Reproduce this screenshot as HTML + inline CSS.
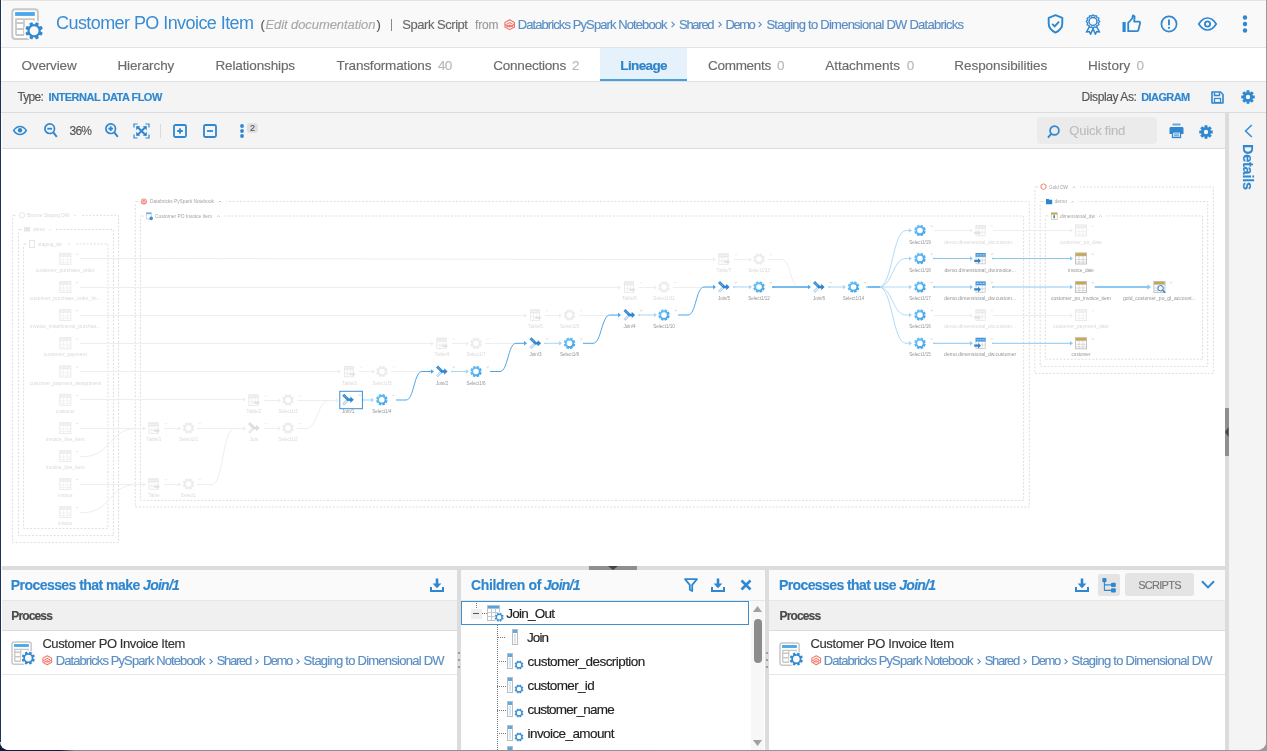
<!DOCTYPE html><html><head><meta charset="utf-8"><title>Lineage</title><style>
*{box-sizing:border-box;margin:0;padding:0}
html,body{width:1267px;height:751px;overflow:hidden;background:linear-gradient(to right,#0f1d3c 0,#0f1d3c 60px,#8c8c8c 75px,#9a9a9a 100%)}
body{position:relative;font-family:"Liberation Sans", Arial, sans-serif}
.t{position:absolute;white-space:pre;line-height:1;font-family:"Liberation Sans", Arial, sans-serif;-webkit-text-stroke:0.15px currentColor}
.ic{position:absolute;overflow:visible}
.bx{position:absolute}
</style></head><body><div class="bx" style="left:0;top:0;width:1266px;height:750px;background:#fff;border-bottom-left-radius:8.5px;border-bottom-right-radius:8.5px;overflow:hidden"><div class="bx" style="left:2px;top:0;width:1264px;height:1px;background:#e4e4e4"></div><div class="bx" style="left:2px;top:1px;width:1264px;height:46px;background:#f9f9f9"></div><div class="bx" style="left:1px;top:47px;width:1265px;height:1px;background:#e3e3e3"></div><div class="bx" style="left:1px;top:1px;width:1px;height:46px;background:#fff"></div><svg class="ic" style="left:11px;top:8px;width:32.0px;height:32.0px;" viewBox="0 0 32 32"><rect x="1.3" y="1.3" width="25.6" height="29.6" rx="3" fill="#fff" stroke="#c8c8c8" stroke-width="2"/><rect x="4.1" y="4.1" width="19.7" height="3.8" fill="#4aa8e8"/><path d="M5 27 V11.1 H22.9 V16 M5 15 H13 M5 21 H13 M13 11.1 V27 M5 27 H13" stroke="#c8c8c8" stroke-width="1.8" fill="none"/><circle cx="23.1" cy="22.8" r="10.3" fill="#fafafa"/><path d="M29.67,23.45 L31.77,24.81 L30.65,27.51 L28.20,26.99 L27.29,27.90 L27.81,30.35 L25.11,31.47 L23.75,29.37 L22.45,29.37 L21.09,31.47 L18.39,30.35 L18.91,27.90 L18.00,26.99 L15.55,27.51 L14.43,24.81 L16.53,23.45 L16.53,22.15 L14.43,20.79 L15.55,18.09 L18.00,18.61 L18.91,17.70 L18.39,15.25 L21.09,14.13 L22.45,16.23 L23.75,16.23 L25.11,14.13 L27.81,15.25 L27.29,17.70 L28.20,18.61 L30.65,18.09 L31.77,20.79 L29.67,22.15Z M27.60,22.80 A4.5,4.5 0 1 0 18.60,22.80 A4.5,4.5 0 1 0 27.60,22.80Z" fill="#3189d0" fill-rule="evenodd"/></svg><span class="t " style="left:56.00px;top:13.78px;font-size:18px;color:#3a8dd3;letter-spacing:-0.566px;-webkit-text-stroke:0;">Customer PO Invoice Item</span><span class="t " style="left:260.40px;top:18.02px;font-size:13px;color:#555;">(</span><span class="t " style="left:265.40px;top:18.02px;font-size:13px;color:#a9a9a9;font-style:italic;letter-spacing:-0.072px;">Edit documentation</span><span class="t " style="left:376.50px;top:18.02px;font-size:13px;color:#555;">)</span><div class="bx" style="left:391px;top:19px;width:1px;height:12px;background:#888"></div><span class="t " style="left:402.30px;top:18.02px;font-size:13px;color:#6a6a6a;letter-spacing:-0.468px;">Spark Script</span><span class="t " style="left:475.00px;top:18.86px;font-size:12px;color:#9a9a9a;letter-spacing:-0.150px;">from</span><svg class="ic" style="left:504px;top:18.6px;width:11.4px;height:11.4px;" viewBox="0 0 12 12"><g fill="none" stroke="#f4695b" stroke-width="1.15" stroke-linejoin="round" opacity="0.95"><path d="M6 0.8 L11 3.6 V8.4 L6 11.2 L1 8.4 V3.6 Z"/><path d="M1 5.6 L6 8.4 L11 5.6"/><path d="M3 5.4 L6 3.8 L9 5.4"/><path d="M2.6 8.4 L6 6.4 L9.4 8.4"/></g></svg><span class="t " style="left:517.70px;top:18.02px;font-size:13px;color:#5a8ec4;letter-spacing:-0.905px;">Databricks PySpark Notebook</span><svg class="ic" style="left:670.5px;top:21.2px;width:4px;height:7px;" viewBox="0 0 4 7"><path d="M0.6 0.8 L3.3 3.5 L0.6 6.2" fill="none" stroke="#5a8ec4" stroke-width="1.1"/></svg><span class="t " style="left:679.00px;top:18.02px;font-size:13px;color:#5a8ec4;letter-spacing:-1.270px;">Shared</span><svg class="ic" style="left:717.5px;top:21.2px;width:4px;height:7px;" viewBox="0 0 4 7"><path d="M0.6 0.8 L3.3 3.5 L0.6 6.2" fill="none" stroke="#5a8ec4" stroke-width="1.1"/></svg><span class="t " style="left:725.60px;top:18.02px;font-size:13px;color:#5a8ec4;letter-spacing:-1.522px;">Demo</span><svg class="ic" style="left:758px;top:21.2px;width:4px;height:7px;" viewBox="0 0 4 7"><path d="M0.6 0.8 L3.3 3.5 L0.6 6.2" fill="none" stroke="#5a8ec4" stroke-width="1.1"/></svg><span class="t " style="left:766.40px;top:18.02px;font-size:13px;color:#5a8ec4;letter-spacing:-0.750px;">Staging to Dimensional DW Databricks</span><svg class="ic" style="left:1047px;top:14px;width:17px;height:20px;" viewBox="0 0 17 20"><path d="M8.5 1.2 L15.3 3.8 V9.5 C15.3 14 12.3 16.8 8.5 18.6 C4.7 16.8 1.7 14 1.7 9.5 V3.8 Z" fill="none" stroke="#2f87cf" stroke-width="1.9" stroke-linejoin="round"/><path d="M5.2 9.8 L7.7 12.3 L12 7.6" fill="none" stroke="#2f87cf" stroke-width="1.9"/></svg><svg class="ic" style="left:1085px;top:14px;width:16px;height:21px;" viewBox="0 0 16 21"><path d="M14.65,7.50 L14.48,7.92 L14.05,8.30 L13.60,8.61 L13.36,8.94 L13.41,9.34 L13.64,9.83 L13.82,10.37 L13.76,10.82 L13.40,11.11 L12.84,11.21 L12.29,11.27 L11.92,11.42 L11.77,11.79 L11.71,12.34 L11.61,12.90 L11.33,13.26 L10.87,13.32 L10.33,13.14 L9.84,12.91 L9.44,12.86 L9.11,13.10 L8.80,13.55 L8.42,13.98 L8.00,14.15 L7.58,13.98 L7.20,13.55 L6.89,13.10 L6.56,12.86 L6.16,12.91 L5.67,13.14 L5.13,13.32 L4.68,13.26 L4.39,12.90 L4.29,12.34 L4.23,11.79 L4.08,11.42 L3.71,11.27 L3.16,11.21 L2.60,11.11 L2.24,10.82 L2.18,10.37 L2.36,9.83 L2.59,9.34 L2.64,8.94 L2.40,8.61 L1.95,8.30 L1.52,7.92 L1.35,7.50 L1.52,7.08 L1.95,6.70 L2.40,6.39 L2.64,6.06 L2.59,5.66 L2.36,5.17 L2.18,4.63 L2.24,4.18 L2.60,3.89 L3.16,3.79 L3.71,3.73 L4.08,3.58 L4.23,3.21 L4.29,2.66 L4.39,2.10 L4.67,1.74 L5.13,1.68 L5.67,1.86 L6.16,2.09 L6.56,2.14 L6.89,1.90 L7.20,1.45 L7.58,1.02 L8.00,0.85 L8.42,1.02 L8.80,1.45 L9.11,1.90 L9.44,2.14 L9.84,2.09 L10.33,1.86 L10.87,1.68 L11.33,1.74 L11.61,2.10 L11.71,2.66 L11.77,3.21 L11.92,3.58 L12.29,3.73 L12.84,3.79 L13.40,3.89 L13.76,4.17 L13.82,4.63 L13.64,5.17 L13.41,5.66 L13.36,6.06 L13.60,6.39 L14.05,6.70 L14.48,7.08 L14.65,7.50Z" fill="none" stroke="#2f87cf" stroke-width="1.3"/><circle cx="8" cy="7.5" r="4" fill="none" stroke="#2f87cf" stroke-width="1.5"/><path d="M4.6 12.4 L1.4 18 L4.3 17.4 L5.6 20.2 L8 14.6 L10.4 20.2 L11.7 17.4 L14.6 18 L11.4 12.4" fill="none" stroke="#2f87cf" stroke-width="1.5" stroke-linejoin="round"/></svg><svg class="ic" style="left:1122px;top:14px;width:19px;height:19px;" viewBox="0 0 19 19"><rect x="0.5" y="8" width="3.2" height="10" fill="#2f87cf"/><path d="M6.2 17.2 V8.8 L10.2 4.5 L11 1.3 L12.6 2.4 L12.2 7.6 H17 C17.8 7.6 18.3 8.3 18.1 9.1 L16.4 16 C16.2 16.8 15.6 17.2 14.8 17.2 Z" fill="none" stroke="#2f87cf" stroke-width="1.8" stroke-linejoin="round"/></svg><svg class="ic" style="left:1160px;top:15px;width:18px;height:18px;" viewBox="0 0 18 18"><circle cx="9" cy="9" r="7.6" fill="none" stroke="#2f87cf" stroke-width="1.7"/><path d="M9 4.6 V10.2" stroke="#2f87cf" stroke-width="1.9"/><circle cx="9" cy="12.8" r="1.1" fill="#2f87cf"/></svg><svg class="ic" style="left:1198px;top:17px;width:19px;height:14px;" viewBox="0 0 19 14"><path d="M0.8 7 C3.5 2.6 6.4 1 9.5 1 C12.6 1 15.5 2.6 18.2 7 C15.5 11.4 12.6 13 9.5 13 C6.4 13 3.5 11.4 0.8 7 Z" fill="none" stroke="#2f87cf" stroke-width="1.7"/><circle cx="9.5" cy="7" r="2.6" fill="none" stroke="#2f87cf" stroke-width="1.8"/></svg><svg class="ic" style="left:1242px;top:15px;width:6px;height:18px;" viewBox="0 0 6 18"><circle cx="3" cy="2.5" r="2.2" fill="#2f87cf"/><circle cx="3" cy="9" r="2.2" fill="#2f87cf"/><circle cx="3" cy="15.5" r="2.2" fill="#2f87cf"/></svg><div class="bx" style="left:1px;top:48px;width:1265px;height:33px;background:#fff"></div><div class="bx" style="left:600px;top:48px;width:87px;height:33px;background:#e5f1fb"></div><div class="bx" style="left:600px;top:79px;width:87px;height:2px;background:#46a0de"></div><div class="bx" style="left:1px;top:81px;width:1265px;height:1px;background:#e0e0e0"></div><span class="t " style="left:21.50px;top:58.59px;font-size:13.5px;color:#6b6b6b;letter-spacing:-0.158px;">Overview</span><span class="t " style="left:117.40px;top:58.59px;font-size:13.5px;color:#6b6b6b;letter-spacing:-0.107px;">Hierarchy</span><span class="t " style="left:215.40px;top:58.59px;font-size:13.5px;color:#6b6b6b;letter-spacing:-0.111px;">Relationships</span><span class="t " style="left:336.60px;top:58.59px;font-size:13.5px;color:#6b6b6b;letter-spacing:-0.155px;">Transformations</span><span class="t " style="left:438.00px;top:58.59px;font-size:13.5px;color:#b8b8b8;letter-spacing:-0.766px;">40</span><span class="t " style="left:493.20px;top:58.59px;font-size:13.5px;color:#6b6b6b;letter-spacing:-0.206px;">Connections</span><span class="t " style="left:572.00px;top:58.59px;font-size:13.5px;color:#b8b8b8;">2</span><span class="t " style="left:620.30px;top:58.59px;font-size:13.5px;color:#2f84c8;font-weight:bold;letter-spacing:-0.617px;">Lineage</span><span class="t " style="left:708.00px;top:58.59px;font-size:13.5px;color:#6b6b6b;letter-spacing:-0.283px;">Comments</span><span class="t " style="left:777.00px;top:58.59px;font-size:13.5px;color:#b8b8b8;">0</span><span class="t " style="left:825.20px;top:58.59px;font-size:13.5px;color:#6b6b6b;letter-spacing:-0.022px;">Attachments</span><span class="t " style="left:906.80px;top:58.59px;font-size:13.5px;color:#b8b8b8;">0</span><span class="t " style="left:954.30px;top:58.59px;font-size:13.5px;color:#6b6b6b;letter-spacing:-0.056px;">Responsibilities</span><span class="t " style="left:1088.00px;top:58.59px;font-size:13.5px;color:#6b6b6b;letter-spacing:0.041px;">History</span><span class="t " style="left:1136.60px;top:58.59px;font-size:13.5px;color:#b8b8b8;">0</span><div class="bx" style="left:1px;top:82px;width:1265px;height:30px;background:#f4f4f4"></div><div class="bx" style="left:1px;top:112px;width:1265px;height:1px;background:#dcdcdc"></div><span class="t " style="left:17.40px;top:90.86px;font-size:12px;color:#555;letter-spacing:-0.752px;">Type:</span><span class="t " style="left:48.60px;top:91.71px;font-size:11px;color:#2f87cf;font-weight:bold;letter-spacing:-0.512px;">INTERNAL DATA FLOW</span><span class="t " style="left:1081.50px;top:90.86px;font-size:12px;color:#555;letter-spacing:-0.396px;">Display As:</span><span class="t " style="left:1141.20px;top:91.71px;font-size:11px;color:#2f87cf;font-weight:bold;letter-spacing:-0.580px;">DIAGRAM</span><svg class="ic" style="left:1211px;top:91px;width:13px;height:13px;" viewBox="0 0 13 13"><path d="M1 1 H9.5 L12 3.5 V12 H1 Z" fill="none" stroke="#2f87cf" stroke-width="1.6" stroke-linejoin="round"/><path d="M3.5 1.5 V4.5 H8.5 V1.5" fill="none" stroke="#2f87cf" stroke-width="1.4"/><rect x="3.5" y="7.5" width="6" height="4" fill="none" stroke="#2f87cf" stroke-width="1.2"/></svg><svg class="ic" style="left:1240.5px;top:90px;width:14px;height:14px;" viewBox="0 0 14 14"><path d="M11.78,5.55 L13.74,5.52 L13.74,8.48 L11.78,8.45 L11.41,9.36 L12.81,10.72 L10.72,12.81 L9.36,11.41 L8.45,11.78 L8.48,13.74 L5.52,13.74 L5.55,11.78 L4.64,11.41 L3.28,12.81 L1.19,10.72 L2.59,9.36 L2.22,8.45 L0.26,8.48 L0.26,5.52 L2.22,5.55 L2.59,4.64 L1.19,3.28 L3.28,1.19 L4.64,2.59 L5.55,2.22 L5.52,0.26 L8.48,0.26 L8.45,2.22 L9.36,2.59 L10.72,1.19 L12.81,3.28 L11.41,4.64Z M9.20,7.00 A2.2,2.2 0 1 0 4.80,7.00 A2.2,2.2 0 1 0 9.20,7.00Z" fill="#2f87cf" fill-rule="evenodd"/></svg><div class="bx" style="left:2px;top:113px;width:1223px;height:35px;background:#f4f4f4"></div><div class="bx" style="left:2px;top:148px;width:1223px;height:1px;background:#dcdcdc"></div><svg class="ic" style="left:13px;top:126px;width:14px;height:9px;" viewBox="0 0 14 9"><path d="M0.6 4.5 C2.6 1.6 4.6 0.5 7 0.5 C9.4 0.5 11.4 1.6 13.4 4.5 C11.4 7.4 9.4 8.5 7 8.5 C4.6 8.5 2.6 7.4 0.6 4.5Z" fill="none" stroke="#2f87cf" stroke-width="1.4"/><circle cx="7" cy="4.3" r="2.2" fill="#2f87cf"/></svg><svg class="ic" style="left:44px;top:123px;width:14px;height:15px;" viewBox="0 0 14 15"><circle cx="5.7" cy="5.7" r="4.8" fill="none" stroke="#2f87cf" stroke-width="1.7"/><path d="M3.3 5.7 H8.1" stroke="#2f87cf" stroke-width="1.8"/><path d="M9.3 9.3 L12.8 13.8" stroke="#2f87cf" stroke-width="1.9"/></svg><span class="t " style="left:69.60px;top:124.86px;font-size:12px;color:#555;letter-spacing:-0.810px;">36%</span><svg class="ic" style="left:105px;top:123px;width:14px;height:15px;" viewBox="0 0 14 15"><circle cx="5.7" cy="5.7" r="4.8" fill="none" stroke="#2f87cf" stroke-width="1.7"/><path d="M3.3 5.7 H8.1 M5.7 3.3 V8.1" stroke="#2f87cf" stroke-width="1.8"/><path d="M9.3 9.3 L12.8 13.8" stroke="#2f87cf" stroke-width="1.9"/></svg><svg class="ic" style="left:132.5px;top:123px;width:17px;height:16px;" viewBox="0 0 17 16"><path d="M1 4.5 V1 H4.5 M12.5 1 H16 V4.5 M16 11.5 V15 H12.5 M4.5 15 H1 V11.5" fill="none" stroke="#2f87cf" stroke-width="1.2"/><path d="M4 3.5 L13 12.5 M13 3.5 L4 12.5" stroke="#2f87cf" stroke-width="2"/><path d="M3.2 3.2 h4 l-4 4z M13.8 3.2 h-4 l4 4z M3.2 12.8 h4 l-4 -4z M13.8 12.8 h-4 l4 -4z" fill="#2f87cf"/></svg><div class="bx" style="left:160px;top:124px;width:1px;height:14px;background:#dadada"></div><svg class="ic" style="left:173px;top:124px;width:14px;height:14px;" viewBox="0 0 14 14"><rect x="1" y="1" width="12" height="12" rx="1.5" fill="none" stroke="#2f87cf" stroke-width="1.8"/><path d="M4.2 7 H9.8 M7 4.2 V9.8" stroke="#2f87cf" stroke-width="1.8"/></svg><svg class="ic" style="left:203px;top:124px;width:14px;height:14px;" viewBox="0 0 14 14"><rect x="1" y="1" width="12" height="12" rx="1.5" fill="none" stroke="#2f87cf" stroke-width="1.8"/><path d="M4 7 H10" stroke="#2f87cf" stroke-width="1.8"/></svg><svg class="ic" style="left:240px;top:124px;width:4px;height:14px;" viewBox="0 0 4 14"><circle cx="2" cy="2" r="1.9" fill="#2f87cf"/><circle cx="2" cy="7" r="1.9" fill="#2f87cf"/><circle cx="2" cy="12" r="1.9" fill="#2f87cf"/></svg><div class="bx" style="left:247px;top:123px;width:11px;height:10px;background:#e0e0e0;border-radius:3px"></div><span class="t " style="left:250.00px;top:124.40px;font-size:9px;color:#555;">2</span><div class="bx" style="left:1037px;top:117px;width:120px;height:27px;background:#ebebeb;border-radius:4px"></div><svg class="ic" style="left:1046.5px;top:124.5px;width:13px;height:14px;" viewBox="0 0 13 14"><circle cx="7.5" cy="5.5" r="4.4" fill="none" stroke="#2f87cf" stroke-width="1.7"/><path d="M4.4 8.6 L1 12.6" stroke="#2f87cf" stroke-width="1.9"/></svg><span class="t " style="left:1069.30px;top:124.02px;font-size:13px;color:#bdbdbd;letter-spacing:-0.211px;">Quick find</span><svg class="ic" style="left:1168.5px;top:122.5px;width:15px;height:15px;" viewBox="0 0 15 15"><rect x="3.5" y="0.5" width="8" height="2" fill="#6aa6d8"/><path d="M2 4 H13 C14 4 14.5 4.6 14.5 5.5 V11 H12 V9 H3 V11 H0.5 V5.5 C0.5 4.6 1 4 2 4Z" fill="#2f87cf"/><rect x="3.5" y="9" width="8" height="5.5" fill="none" stroke="#2f87cf" stroke-width="1.3"/><path d="M5 11 H10 M5 12.8 H10" stroke="#2f87cf" stroke-width="0.9"/></svg><svg class="ic" style="left:1199.3px;top:124.5px;width:14px;height:14px;" viewBox="0 0 14 14"><path d="M11.78,5.55 L13.74,5.52 L13.74,8.48 L11.78,8.45 L11.41,9.36 L12.81,10.72 L10.72,12.81 L9.36,11.41 L8.45,11.78 L8.48,13.74 L5.52,13.74 L5.55,11.78 L4.64,11.41 L3.28,12.81 L1.19,10.72 L2.59,9.36 L2.22,8.45 L0.26,8.48 L0.26,5.52 L2.22,5.55 L2.59,4.64 L1.19,3.28 L3.28,1.19 L4.64,2.59 L5.55,2.22 L5.52,0.26 L8.48,0.26 L8.45,2.22 L9.36,2.59 L10.72,1.19 L12.81,3.28 L11.41,4.64Z M9.20,7.00 A2.2,2.2 0 1 0 4.80,7.00 A2.2,2.2 0 1 0 9.20,7.00Z" fill="#2f87cf" fill-rule="evenodd"/></svg><div class="bx" style="left:1225px;top:113px;width:4px;height:637px;background:#dcdcdc"></div><div class="bx" style="left:1229px;top:113px;width:37px;height:637px;background:#f4f4f4"></div><svg class="ic" style="left:1244px;top:124px;width:9px;height:14px;" viewBox="0 0 9 14"><path d="M7.8 1 L1.6 7 L7.8 13" fill="none" stroke="#3a8fd3" stroke-width="1.6"/></svg><div class="bx" style="left:1241.7px;top:144.2px;width:0;height:0"><span class="t" style="left:0;top:0;transform-origin:0 0;transform:translate(12.5px,0) rotate(90deg);font-size:14.5px;font-weight:bold;color:#2f87cf;letter-spacing:-0.25px">Details</span></div><div class="bx" style="left:1225px;top:408px;width:4px;height:48px;background:#8f8f8f"></div><svg class="ic" style="left:1225px;top:427px;width:4px;height:10px;" viewBox="0 0 4 10"><path d="M3.5 0 L0 5 L3.5 10Z" fill="#444"/></svg><div class="bx" style="left:2px;top:149px;width:1223px;height:417px;background:#fff"></div><div class="bx" style="left:2px;top:149px;width:1223px;height:417px;overflow:hidden"><svg style="position:absolute;left:0;top:0" width="1223" height="417" viewBox="2 149 1223 417" font-family='"Liberation Sans", Arial, sans-serif'><defs><linearGradient id="gg" x1="0" y1="0" x2="1" y2="1"><stop offset="0" stop-color="#74c8f7"/><stop offset="1" stop-color="#3a9de6"/></linearGradient></defs><path d="M12.6,218.3 V542.6 H118.5 V215.3 H81" fill="none" stroke="#dedede" stroke-width="1" stroke-dasharray="2 1.6"/><path d="M12.6,215.3 H15.6" stroke="#dedede" stroke-width="1"/><circle cx="22" cy="215.3" r="2.6" fill="none" stroke="#e2e2e2" stroke-width="0.9"/><text x="27.3" y="217.10000000000002" font-size="5" fill="#d9d9d9" textLength="42" lengthAdjust="spacingAndGlyphs">Bronze Staging DW</text><path d="M73.7,216.20000000000002 L75,214.9 L76.3,216.20000000000002" fill="none" stroke="#d9d9d9" stroke-width="0.6"/><path d="M18.4,232.5 V535.6 H113.4 V229.5 H56" fill="none" stroke="#dedede" stroke-width="1" stroke-dasharray="2 1.6"/><path d="M18.4,229.5 H21.4" stroke="#dedede" stroke-width="1"/><rect x="24" y="227" width="6" height="4.6" fill="#e6e6e6"/><text x="33" y="231.3" font-size="5" fill="#d9d9d9" textLength="12" lengthAdjust="spacingAndGlyphs">demo</text><path d="M48.7,230.4 L50,229.1 L51.3,230.4" fill="none" stroke="#d9d9d9" stroke-width="0.6"/><path d="M23.6,246.9 V528.4 H107.9 V243.9 H75" fill="none" stroke="#dedede" stroke-width="1" stroke-dasharray="2 1.6"/><path d="M23.6,243.9 H26.6" stroke="#dedede" stroke-width="1"/><rect x="29.5" y="240.5" width="5" height="7" fill="none" stroke="#e2e2e2" stroke-width="0.9"/><text x="38" y="245.70000000000002" font-size="5" fill="#d9d9d9" textLength="24" lengthAdjust="spacingAndGlyphs">staging_dw</text><path d="M67.7,244.8 L69,243.5 L70.3,244.8" fill="none" stroke="#d9d9d9" stroke-width="0.6"/><path d="M135.3,204.4 V507 H1029.3 V201.4 H226.6" fill="none" stroke="#dedede" stroke-width="1" stroke-dasharray="2 1.6"/><path d="M135.3,201.4 H138.3" stroke="#dedede" stroke-width="1"/><circle cx="143.9" cy="201.4" r="3" fill="#f07a6c"/><path d="M141.6 200.6 L143.9 199.4 L146.2 200.6 L143.9 201.8Z M141.6 202 L143.9 203.2 L146.2 202" fill="none" stroke="#fff" stroke-width="0.6"/><text x="150" y="203.20000000000002" font-size="5" fill="#a3a3a3" textLength="64" lengthAdjust="spacingAndGlyphs">Databricks PySpark Notebook</text><path d="M218.7,202.3 L220,201.0 L221.3,202.3" fill="none" stroke="#a3a3a3" stroke-width="0.6"/><path d="M140.4,219 V500.4 H1023.6 V216 H224" fill="none" stroke="#dedede" stroke-width="1" stroke-dasharray="2 1.6"/><path d="M140.4,216 H143.4" stroke="#dedede" stroke-width="1"/><rect x="146.3" y="212.6" width="5" height="6.4" fill="#fff" stroke="#b9c7d6" stroke-width="0.7"/><rect x="146.5" y="212.8" width="4.6" height="1.4" fill="#6aaee6"/><circle cx="151.2" cy="218.4" r="1.8" fill="#3b8fd6"/><text x="155" y="217.8" font-size="5" fill="#a3a3a3" textLength="57" lengthAdjust="spacingAndGlyphs">Customer PO Invoice Item</text><path d="M217.2,216.9 L218.5,215.6 L219.8,216.9" fill="none" stroke="#a3a3a3" stroke-width="0.6"/><path d="M1034.9,190 V373.4 H1213.4 V187 H1080" fill="none" stroke="#dedede" stroke-width="1" stroke-dasharray="2 1.6"/><path d="M1034.9,187 H1037.9" stroke="#dedede" stroke-width="1"/><path d="M1041 185.2 L1043.5 183.8 L1046 185.2 V188 L1043.5 189.6 L1041 188Z" fill="none" stroke="#ef6f60" stroke-width="0.9"/><text x="1049" y="188.8" font-size="5" fill="#a3a3a3" textLength="19" lengthAdjust="spacingAndGlyphs">Gold DW</text><path d="M1072.7,187.9 L1074,186.6 L1075.3,187.9" fill="none" stroke="#a3a3a3" stroke-width="0.6"/><path d="M1040.2,204.6 V366.4 H1207.7 V201.6 H1078" fill="none" stroke="#dedede" stroke-width="1" stroke-dasharray="2 1.6"/><path d="M1040.2,201.6 H1043.2" stroke="#dedede" stroke-width="1"/><path d="M1046 199 H1048.6 L1049.4 199.8 H1052.2 V204.2 H1046Z" fill="#2f86d0"/><text x="1054.5" y="203.4" font-size="5" fill="#a3a3a3" textLength="12.5" lengthAdjust="spacingAndGlyphs">demo</text><path d="M1071.2,202.5 L1072.5,201.2 L1073.8,202.5" fill="none" stroke="#a3a3a3" stroke-width="0.6"/><path d="M1045.4,218.9 V359.2 H1202.5 V215.9 H1106" fill="none" stroke="#dedede" stroke-width="1" stroke-dasharray="2 1.6"/><path d="M1045.4,215.9 H1048.4" stroke="#dedede" stroke-width="1"/><rect x="1051.2" y="212.8" width="6" height="6.6" fill="#fff" stroke="#c6b27a" stroke-width="0.6"/><rect x="1051.2" y="212.8" width="6" height="1.8" fill="#c9a74c"/><rect x="1053.4" y="215.2" width="1.6" height="3" fill="#2f86d0"/><text x="1060" y="217.70000000000002" font-size="5" fill="#a3a3a3" textLength="35" lengthAdjust="spacingAndGlyphs">dimensional_dw</text><path d="M1099.2,216.8 L1100.5,215.5 L1101.8,216.8" fill="none" stroke="#a3a3a3" stroke-width="0.6"/><rect x="59.8" y="253.3" width="11" height="11" fill="#fff" stroke="#ebebeb" stroke-width="1"/><rect x="59.8" y="253.3" width="11" height="3" fill="#f0f0f0" stroke="#ebebeb" stroke-width="0.6"/><path d="M59.8,259.8 H70.8 M59.8,262.3 H70.8 M63.3,256.3 V264.3 M67.3,256.3 V264.3" stroke="#ebebeb" stroke-width="0.6"/><path d="M60.8,254.8 H69.8" stroke="#f4f4f4" stroke-width="0.6" stroke-dasharray="2 0.8"/><path d="M75.8,253.8 L77.0,255.0 L78.2,253.8" fill="none" stroke="#cfcfcf" stroke-width="0.5"/><text transform="translate(65.3,271.9) scale(1.1,1)" font-size="4.6" fill="#d9d9d9" text-anchor="middle">customer_purchase_order</text><rect x="59.8" y="281.5" width="11" height="11" fill="#fff" stroke="#ebebeb" stroke-width="1"/><rect x="59.8" y="281.5" width="11" height="3" fill="#f0f0f0" stroke="#ebebeb" stroke-width="0.6"/><path d="M59.8,288 H70.8 M59.8,290.5 H70.8 M63.3,284.5 V292.5 M67.3,284.5 V292.5" stroke="#ebebeb" stroke-width="0.6"/><path d="M60.8,283 H69.8" stroke="#f4f4f4" stroke-width="0.6" stroke-dasharray="2 0.8"/><path d="M75.8,282 L77.0,283.2 L78.2,282" fill="none" stroke="#cfcfcf" stroke-width="0.5"/><text transform="translate(65.3,300.1) scale(1.1,1)" font-size="4.6" fill="#d9d9d9" text-anchor="middle">customer_purchase_order_lin...</text><rect x="59.8" y="309.5" width="11" height="11" fill="#fff" stroke="#ebebeb" stroke-width="1"/><rect x="59.8" y="309.5" width="11" height="3" fill="#f0f0f0" stroke="#ebebeb" stroke-width="0.6"/><path d="M59.8,316 H70.8 M59.8,318.5 H70.8 M63.3,312.5 V320.5 M67.3,312.5 V320.5" stroke="#ebebeb" stroke-width="0.6"/><path d="M60.8,311 H69.8" stroke="#f4f4f4" stroke-width="0.6" stroke-dasharray="2 0.8"/><path d="M75.8,310 L77.0,311.2 L78.2,310" fill="none" stroke="#cfcfcf" stroke-width="0.5"/><text transform="translate(65.3,328.1) scale(1.1,1)" font-size="4.6" fill="#d9d9d9" text-anchor="middle">invoice_installments_purchas...</text><rect x="59.8" y="337.8" width="11" height="11" fill="#fff" stroke="#ebebeb" stroke-width="1"/><rect x="59.8" y="337.8" width="11" height="3" fill="#f0f0f0" stroke="#ebebeb" stroke-width="0.6"/><path d="M59.8,344.3 H70.8 M59.8,346.8 H70.8 M63.3,340.8 V348.8 M67.3,340.8 V348.8" stroke="#ebebeb" stroke-width="0.6"/><path d="M60.8,339.3 H69.8" stroke="#f4f4f4" stroke-width="0.6" stroke-dasharray="2 0.8"/><path d="M75.8,338.3 L77.0,339.5 L78.2,338.3" fill="none" stroke="#cfcfcf" stroke-width="0.5"/><text transform="translate(65.3,356.4) scale(1.1,1)" font-size="4.6" fill="#d9d9d9" text-anchor="middle">customer_payment</text><rect x="59.8" y="366.0" width="11" height="11" fill="#fff" stroke="#ebebeb" stroke-width="1"/><rect x="59.8" y="366.0" width="11" height="3" fill="#f0f0f0" stroke="#ebebeb" stroke-width="0.6"/><path d="M59.8,372.5 H70.8 M59.8,375.0 H70.8 M63.3,369.0 V377.0 M67.3,369.0 V377.0" stroke="#ebebeb" stroke-width="0.6"/><path d="M60.8,367.5 H69.8" stroke="#f4f4f4" stroke-width="0.6" stroke-dasharray="2 0.8"/><path d="M75.8,366.5 L77.0,367.7 L78.2,366.5" fill="none" stroke="#cfcfcf" stroke-width="0.5"/><text transform="translate(65.3,384.6) scale(1.1,1)" font-size="4.6" fill="#d9d9d9" text-anchor="middle">customer_payment_assignment</text><rect x="59.8" y="394.3" width="11" height="11" fill="#fff" stroke="#ebebeb" stroke-width="1"/><rect x="59.8" y="394.3" width="11" height="3" fill="#f0f0f0" stroke="#ebebeb" stroke-width="0.6"/><path d="M59.8,400.8 H70.8 M59.8,403.3 H70.8 M63.3,397.3 V405.3 M67.3,397.3 V405.3" stroke="#ebebeb" stroke-width="0.6"/><path d="M60.8,395.8 H69.8" stroke="#f4f4f4" stroke-width="0.6" stroke-dasharray="2 0.8"/><path d="M75.8,394.8 L77.0,396.0 L78.2,394.8" fill="none" stroke="#cfcfcf" stroke-width="0.5"/><text transform="translate(65.3,412.9) scale(1.0,1)" font-size="4.6" fill="#d9d9d9" text-anchor="middle">customer</text><rect x="59.8" y="422.5" width="11" height="11" fill="#fff" stroke="#ebebeb" stroke-width="1"/><rect x="59.8" y="422.5" width="11" height="3" fill="#f0f0f0" stroke="#ebebeb" stroke-width="0.6"/><path d="M59.8,429 H70.8 M59.8,431.5 H70.8 M63.3,425.5 V433.5 M67.3,425.5 V433.5" stroke="#ebebeb" stroke-width="0.6"/><path d="M60.8,424 H69.8" stroke="#f4f4f4" stroke-width="0.6" stroke-dasharray="2 0.8"/><path d="M75.8,423 L77.0,424.2 L78.2,423" fill="none" stroke="#cfcfcf" stroke-width="0.5"/><text transform="translate(65.3,441.1) scale(1.1,1)" font-size="4.6" fill="#d9d9d9" text-anchor="middle">invoice_line_item</text><rect x="59.8" y="450.5" width="11" height="11" fill="#fff" stroke="#ebebeb" stroke-width="1"/><rect x="59.8" y="450.5" width="11" height="3" fill="#f0f0f0" stroke="#ebebeb" stroke-width="0.6"/><path d="M59.8,457 H70.8 M59.8,459.5 H70.8 M63.3,453.5 V461.5 M67.3,453.5 V461.5" stroke="#ebebeb" stroke-width="0.6"/><path d="M60.8,452 H69.8" stroke="#f4f4f4" stroke-width="0.6" stroke-dasharray="2 0.8"/><path d="M75.8,451 L77.0,452.2 L78.2,451" fill="none" stroke="#cfcfcf" stroke-width="0.5"/><text transform="translate(65.3,469.1) scale(1.1,1)" font-size="4.6" fill="#d9d9d9" text-anchor="middle">invoice_line_item</text><rect x="59.8" y="478.5" width="11" height="11" fill="#fff" stroke="#ebebeb" stroke-width="1"/><rect x="59.8" y="478.5" width="11" height="3" fill="#f0f0f0" stroke="#ebebeb" stroke-width="0.6"/><path d="M59.8,485 H70.8 M59.8,487.5 H70.8 M63.3,481.5 V489.5 M67.3,481.5 V489.5" stroke="#ebebeb" stroke-width="0.6"/><path d="M60.8,480 H69.8" stroke="#f4f4f4" stroke-width="0.6" stroke-dasharray="2 0.8"/><path d="M75.8,479 L77.0,480.2 L78.2,479" fill="none" stroke="#cfcfcf" stroke-width="0.5"/><text transform="translate(65.3,497.1) scale(1.0,1)" font-size="4.6" fill="#d9d9d9" text-anchor="middle">invoice</text><rect x="59.8" y="506.5" width="11" height="11" fill="#fff" stroke="#ebebeb" stroke-width="1"/><rect x="59.8" y="506.5" width="11" height="3" fill="#f0f0f0" stroke="#ebebeb" stroke-width="0.6"/><path d="M59.8,513 H70.8 M59.8,515.5 H70.8 M63.3,509.5 V517.5 M67.3,509.5 V517.5" stroke="#ebebeb" stroke-width="0.6"/><path d="M60.8,508 H69.8" stroke="#f4f4f4" stroke-width="0.6" stroke-dasharray="2 0.8"/><path d="M75.8,507 L77.0,508.2 L78.2,507" fill="none" stroke="#cfcfcf" stroke-width="0.5"/><text transform="translate(65.3,525.1) scale(1.0,1)" font-size="4.6" fill="#d9d9d9" text-anchor="middle">invoice</text><path d="M80,258.5 C429.8,258.5 366.2,259.5 714,259.5" fill="none" stroke="#eeeeee" stroke-width="1.0"/><path d="M713.0,257.3 L716,259.5 L713.0,261.7Z" fill="#eeeeee"/><path d="M80,287.5 H619" fill="none" stroke="#eeeeee" stroke-width="1.0"/><path d="M618.0,285.3 L621,287.5 L618.0,289.7Z" fill="#eeeeee"/><path d="M80,315.5 H525" fill="none" stroke="#eeeeee" stroke-width="1.0"/><path d="M524.0,313.3 L527,315.5 L524.0,317.7Z" fill="#eeeeee"/><path d="M80,343.5 H432" fill="none" stroke="#eeeeee" stroke-width="1.0"/><path d="M431.0,341.3 L434,343.5 L431.0,345.7Z" fill="#eeeeee"/><path d="M80,371.5 H339" fill="none" stroke="#eeeeee" stroke-width="1.0"/><path d="M338.0,369.3 L341,371.5 L338.0,373.7Z" fill="#eeeeee"/><path d="M80,399.5 H244" fill="none" stroke="#eeeeee" stroke-width="1.0"/><path d="M243.0,397.3 L246,399.5 L243.0,401.7Z" fill="#eeeeee"/><path d="M80,428.5 H144" fill="none" stroke="#eeeeee" stroke-width="1.0"/><path d="M143.0,426.3 L146,428.5 L143.0,430.7Z" fill="#eeeeee"/><path d="M80,456.5 H84 C110.0,456.5 110.0,428.5 136,428.5 H144" fill="none" stroke="#eeeeee" stroke-width="1.0"/><path d="M80,484.5 H144" fill="none" stroke="#eeeeee" stroke-width="1.0"/><path d="M143.0,482.3 L146,484.5 L143.0,486.7Z" fill="#eeeeee"/><path d="M80,512.5 H84 C110.0,512.5 110.0,484.5 136,484.5 H144" fill="none" stroke="#eeeeee" stroke-width="1.0"/><path d="M164,428.5 H179" fill="none" stroke="#eeeeee" stroke-width="1.0"/><path d="M178.0,426.3 L181,428.5 L178.0,430.7Z" fill="#eeeeee"/><path d="M164,484.5 H179" fill="none" stroke="#eeeeee" stroke-width="1.0"/><path d="M178.0,482.3 L181,484.5 L178.0,486.7Z" fill="#eeeeee"/><path d="M197,428.5 H244" fill="none" stroke="#eeeeee" stroke-width="1.0"/><path d="M243.0,426.3 L246,428.5 L243.0,430.7Z" fill="#eeeeee"/><path d="M197,484.5 H212 C223.0,484.5 223.0,428.5 234,428.5 H244" fill="none" stroke="#eeeeee" stroke-width="1.0"/><path d="M264,428.5 H279" fill="none" stroke="#eeeeee" stroke-width="1.0"/><path d="M278.0,426.3 L281,428.5 L278.0,430.7Z" fill="#eeeeee"/><path d="M264,400.5 H279" fill="none" stroke="#eeeeee" stroke-width="1.0"/><path d="M278.0,398.3 L281,400.5 L278.0,402.7Z" fill="#eeeeee"/><path d="M297,400.5 H337" fill="none" stroke="#eeeeee" stroke-width="1.0"/><path d="M336.0,398.3 L339,400.5 L336.0,402.7Z" fill="#eeeeee"/><path d="M297,428.5 H306 C317.5,428.5 317.5,400.5 329,400.5 H337" fill="none" stroke="#eeeeee" stroke-width="1.0"/><path d="M359,371.5 H373" fill="none" stroke="#eeeeee" stroke-width="1.0"/><path d="M372.0,369.3 L375,371.5 L372.0,373.7Z" fill="#eeeeee"/><path d="M391,371.5 H430" fill="none" stroke="#eeeeee" stroke-width="1.0"/><path d="M429.0,369.3 L432,371.5 L429.0,373.7Z" fill="#eeeeee"/><path d="M452,343.5 H467" fill="none" stroke="#eeeeee" stroke-width="1.0"/><path d="M466.0,341.3 L469,343.5 L466.0,345.7Z" fill="#eeeeee"/><path d="M485,343.5 H525" fill="none" stroke="#eeeeee" stroke-width="1.0"/><path d="M524.0,341.3 L527,343.5 L524.0,345.7Z" fill="#eeeeee"/><path d="M545,315.5 H560" fill="none" stroke="#eeeeee" stroke-width="1.0"/><path d="M559.0,313.3 L562,315.5 L559.0,317.7Z" fill="#eeeeee"/><path d="M579,315.5 H619" fill="none" stroke="#eeeeee" stroke-width="1.0"/><path d="M618.0,313.3 L621,315.5 L618.0,317.7Z" fill="#eeeeee"/><path d="M639,287.5 H655" fill="none" stroke="#eeeeee" stroke-width="1.0"/><path d="M654.0,285.3 L657,287.5 L654.0,289.7Z" fill="#eeeeee"/><path d="M673,287.5 H714" fill="none" stroke="#eeeeee" stroke-width="1.0"/><path d="M713.0,285.3 L716,287.5 L713.0,289.7Z" fill="#eeeeee"/><path d="M734,259.5 H750" fill="none" stroke="#eeeeee" stroke-width="1.0"/><path d="M749.0,257.3 L752,259.5 L749.0,261.7Z" fill="#eeeeee"/><path d="M768,259.5 H782 C790.5,259.5 790.5,287.5 799,287.5 H809" fill="none" stroke="#eeeeee" stroke-width="1.0"/><path d="M363,400 H372" fill="none" stroke="#a9d5f5" stroke-width="1.0"/><path d="M371.0,397.8 L374,400 L371.0,402.2Z" fill="#a9d5f5"/><circle cx="363" cy="400" r="0.9" fill="#a9d5f5"/><path d="M396,400 H406 C414.0,400 414.0,371.5 422,371.5 H432" fill="none" stroke="#4ba6ea" stroke-width="1.0"/><path d="M431.0,369.3 L434,371.5 L431.0,373.7Z" fill="#4ba6ea"/><path d="M452,371.5 H467" fill="none" stroke="#a9d5f5" stroke-width="1.0"/><path d="M466.0,369.3 L469,371.5 L466.0,373.7Z" fill="#a9d5f5"/><circle cx="452" cy="371.5" r="0.9" fill="#a9d5f5"/><path d="M490,371.5 H500 C508.0,371.5 508.0,343.3 516,343.3 H525" fill="none" stroke="#4ba6ea" stroke-width="1.0"/><path d="M524.0,341.1 L527,343.3 L524.0,345.5Z" fill="#4ba6ea"/><path d="M545,343.3 H560" fill="none" stroke="#a9d5f5" stroke-width="1.0"/><path d="M559.0,341.1 L562,343.3 L559.0,345.5Z" fill="#a9d5f5"/><circle cx="545" cy="343.3" r="0.9" fill="#a9d5f5"/><path d="M583,343.3 H593 C601.5,343.3 601.5,315 610,315 H619" fill="none" stroke="#4ba6ea" stroke-width="1.0"/><path d="M618.0,312.8 L621,315 L618.0,317.2Z" fill="#4ba6ea"/><path d="M639,315 H655" fill="none" stroke="#a9d5f5" stroke-width="1.0"/><path d="M654.0,312.8 L657,315 L654.0,317.2Z" fill="#a9d5f5"/><circle cx="639" cy="315" r="0.9" fill="#a9d5f5"/><path d="M678,315 H688 C696.0,315 696.0,287 704,287 H714" fill="none" stroke="#4ba6ea" stroke-width="1.0"/><path d="M713.0,284.8 L716,287 L713.0,289.2Z" fill="#4ba6ea"/><path d="M734,287 H750" fill="none" stroke="#a9d5f5" stroke-width="1.0"/><path d="M749.0,284.8 L752,287 L749.0,289.2Z" fill="#a9d5f5"/><circle cx="734" cy="287" r="0.9" fill="#a9d5f5"/><path d="M773,287 H809" fill="none" stroke="#4ba6ea" stroke-width="1.3"/><path d="M808.0,284.8 L811,287 L808.0,289.2Z" fill="#4ba6ea"/><circle cx="773" cy="287" r="0.9" fill="#4ba6ea"/><path d="M829,287 H844" fill="none" stroke="#a9d5f5" stroke-width="1.0"/><path d="M843.0,284.8 L846,287 L843.0,289.2Z" fill="#a9d5f5"/><circle cx="829" cy="287" r="0.9" fill="#a9d5f5"/><path d="M866,287 H879 C892.5,287 892.5,230.5 906,230.5 H910" fill="none" stroke="#a9d5f5" stroke-width="0.9"/><path d="M909.0,228.3 L912,230.5 L909.0,232.7Z" fill="#a9d5f5"/><path d="M866,287 H879 C892.5,287 892.5,258.5 906,258.5 H910" fill="none" stroke="#a9d5f5" stroke-width="0.9"/><path d="M909.0,256.3 L912,258.5 L909.0,260.7Z" fill="#a9d5f5"/><path d="M866,287 H879 C892.5,287 892.5,287 906,287 H910" fill="none" stroke="#a9d5f5" stroke-width="0.9"/><path d="M909.0,284.8 L912,287 L909.0,289.2Z" fill="#a9d5f5"/><path d="M866,287 H879 C892.5,287 892.5,315 906,315 H910" fill="none" stroke="#a9d5f5" stroke-width="0.9"/><path d="M909.0,312.8 L912,315 L909.0,317.2Z" fill="#a9d5f5"/><path d="M866,287 H879 C892.5,287 892.5,343.3 906,343.3 H910" fill="none" stroke="#a9d5f5" stroke-width="0.9"/><path d="M909.0,341.1 L912,343.3 L909.0,345.5Z" fill="#a9d5f5"/><path d="M868,287 H880" stroke="#4ba6ea" stroke-width="1.4" opacity="0.8"/><path d="M934,230.5 H971" fill="none" stroke="#eeeeee" stroke-width="1.0"/><path d="M970.0,228.3 L973,230.5 L970.0,232.7Z" fill="#eeeeee"/><path d="M993,230.5 H1071" fill="none" stroke="#eeeeee" stroke-width="1.0"/><path d="M1070.0,228.3 L1073,230.5 L1070.0,232.7Z" fill="#eeeeee"/><path d="M934,258.5 H971" fill="none" stroke="#8cc8f2" stroke-width="1.0"/><path d="M970.0,256.3 L973,258.5 L970.0,260.7Z" fill="#8cc8f2"/><circle cx="934" cy="258.5" r="0.9" fill="#8cc8f2"/><path d="M993,258.5 H1071" fill="none" stroke="#8cc8f2" stroke-width="1.0"/><path d="M1070.0,256.3 L1073,258.5 L1070.0,260.7Z" fill="#8cc8f2"/><circle cx="993" cy="258.5" r="0.9" fill="#8cc8f2"/><path d="M934,287 H971" fill="none" stroke="#8cc8f2" stroke-width="1.0"/><path d="M970.0,284.8 L973,287 L970.0,289.2Z" fill="#8cc8f2"/><circle cx="934" cy="287" r="0.9" fill="#8cc8f2"/><path d="M993,287 H1071" fill="none" stroke="#8cc8f2" stroke-width="1.0"/><path d="M1070.0,284.8 L1073,287 L1070.0,289.2Z" fill="#8cc8f2"/><circle cx="993" cy="287" r="0.9" fill="#8cc8f2"/><path d="M934,315.5 H971" fill="none" stroke="#eeeeee" stroke-width="1.0"/><path d="M970.0,313.3 L973,315.5 L970.0,317.7Z" fill="#eeeeee"/><path d="M993,315.5 H1071" fill="none" stroke="#eeeeee" stroke-width="1.0"/><path d="M1070.0,313.3 L1073,315.5 L1070.0,317.7Z" fill="#eeeeee"/><path d="M934,343.3 H971" fill="none" stroke="#8cc8f2" stroke-width="1.0"/><path d="M970.0,341.1 L973,343.3 L970.0,345.5Z" fill="#8cc8f2"/><circle cx="934" cy="343.3" r="0.9" fill="#8cc8f2"/><path d="M993,343.3 H1071" fill="none" stroke="#8cc8f2" stroke-width="1.0"/><path d="M1070.0,341.1 L1073,343.3 L1070.0,345.5Z" fill="#8cc8f2"/><circle cx="993" cy="343.3" r="0.9" fill="#8cc8f2"/><path d="M1095.5,287 H1148" stroke="#8cc8f2" stroke-width="2"/><path d="M1147.4,284.36 L1151,287 L1147.4,289.64Z" fill="#8cc8f2"/><circle cx="1095.5" cy="287" r="1" fill="#8cc8f2"/><rect x="148.9" y="422.9" width="9.2" height="10.4" fill="#fff" stroke="#e6e6e6" stroke-width="0.8"/><rect x="148.5" y="422.5" width="10" height="3.8" fill="#e9e9e9"/><path d="M149.5,424.4 H157.5" stroke="#fff" stroke-width="1.1" stroke-dasharray="2 1" opacity="0.6"/><path d="M148.9,429.7 H158.1 M151.9,426.3 V433.3 M155.1,426.3 V429.5" stroke="#e6e6e6" stroke-width="0.6"/><path d="M153.7,429.9 H157.3 V428.3 L159.9,430.8 L157.3,433.3 V431.7 H153.7Z" fill="#e2e2e2"/><path d="M164.5,423 L165.7,424.2 L166.9,423" fill="none" stroke="#d8d8d8" stroke-width="0.5"/><text transform="translate(154.0,441.1) scale(1.0,1)" font-size="4.6" fill="#d9d9d9" text-anchor="middle">Table/1</text><path d="M193.08,428.45 L194.33,428.92 L193.27,431.47 L192.06,430.92 L191.42,431.56 L191.97,432.77 L189.42,433.83 L188.95,432.58 L188.05,432.58 L187.58,433.83 L185.03,432.77 L185.58,431.56 L184.94,430.92 L183.73,431.47 L182.67,428.92 L183.92,428.45 L183.92,427.55 L182.67,427.08 L183.73,424.53 L184.94,425.08 L185.58,424.44 L185.03,423.23 L187.58,422.17 L188.05,423.42 L188.95,423.42 L189.42,422.17 L191.97,423.23 L191.42,424.44 L192.06,425.08 L193.27,424.53 L194.33,427.08 L193.08,427.55Z M191.30,428.00 A2.8,2.8 0 1 0 185.70,428.00 A2.8,2.8 0 1 0 191.30,428.00Z" fill="#ececec" fill-rule="evenodd"/><path d="M199.0,423 L200.2,424.2 L201.4,423" fill="none" stroke="#d8d8d8" stroke-width="0.5"/><text transform="translate(188.5,441.1) scale(1.0,1)" font-size="4.6" fill="#d9d9d9" text-anchor="middle">Select1/1</text><rect x="148.9" y="478.9" width="9.2" height="10.4" fill="#fff" stroke="#e6e6e6" stroke-width="0.8"/><rect x="148.5" y="478.5" width="10" height="3.8" fill="#e9e9e9"/><path d="M149.5,480.4 H157.5" stroke="#fff" stroke-width="1.1" stroke-dasharray="2 1" opacity="0.6"/><path d="M148.9,485.7 H158.1 M151.9,482.3 V489.3 M155.1,482.3 V485.5" stroke="#e6e6e6" stroke-width="0.6"/><path d="M153.7,485.9 H157.3 V484.3 L159.9,486.8 L157.3,489.3 V487.7 H153.7Z" fill="#e2e2e2"/><path d="M164.5,479 L165.7,480.2 L166.9,479" fill="none" stroke="#d8d8d8" stroke-width="0.5"/><text transform="translate(154.0,497.1) scale(1.0,1)" font-size="4.6" fill="#d9d9d9" text-anchor="middle">Table</text><path d="M193.08,484.45 L194.33,484.92 L193.27,487.47 L192.06,486.92 L191.42,487.56 L191.97,488.77 L189.42,489.83 L188.95,488.58 L188.05,488.58 L187.58,489.83 L185.03,488.77 L185.58,487.56 L184.94,486.92 L183.73,487.47 L182.67,484.92 L183.92,484.45 L183.92,483.55 L182.67,483.08 L183.73,480.53 L184.94,481.08 L185.58,480.44 L185.03,479.23 L187.58,478.17 L188.05,479.42 L188.95,479.42 L189.42,478.17 L191.97,479.23 L191.42,480.44 L192.06,481.08 L193.27,480.53 L194.33,483.08 L193.08,483.55Z M191.30,484.00 A2.8,2.8 0 1 0 185.70,484.00 A2.8,2.8 0 1 0 191.30,484.00Z" fill="#ececec" fill-rule="evenodd"/><path d="M199.0,479 L200.2,480.2 L201.4,479" fill="none" stroke="#d8d8d8" stroke-width="0.5"/><text transform="translate(188.5,497.1) scale(1.0,1)" font-size="4.6" fill="#d9d9d9" text-anchor="middle">Select1</text><rect x="248.9" y="394.9" width="9.2" height="10.4" fill="#fff" stroke="#e6e6e6" stroke-width="0.8"/><rect x="248.5" y="394.5" width="10" height="3.8" fill="#e9e9e9"/><path d="M249.5,396.4 H257.5" stroke="#fff" stroke-width="1.1" stroke-dasharray="2 1" opacity="0.6"/><path d="M248.9,401.7 H258.1 M251.9,398.3 V405.3 M255.1,398.3 V401.5" stroke="#e6e6e6" stroke-width="0.6"/><path d="M253.7,401.9 H257.3 V400.3 L259.9,402.8 L257.3,405.3 V403.7 H253.7Z" fill="#e2e2e2"/><path d="M264.5,395 L265.7,396.2 L266.9,395" fill="none" stroke="#d8d8d8" stroke-width="0.5"/><text transform="translate(254.0,413.1) scale(1.0,1)" font-size="4.6" fill="#d9d9d9" text-anchor="middle">Table/2</text><path d="M292.58,400.45 L293.83,400.92 L292.77,403.47 L291.56,402.92 L290.92,403.56 L291.47,404.77 L288.92,405.83 L288.45,404.58 L287.55,404.58 L287.08,405.83 L284.53,404.77 L285.08,403.56 L284.44,402.92 L283.23,403.47 L282.17,400.92 L283.42,400.45 L283.42,399.55 L282.17,399.08 L283.23,396.53 L284.44,397.08 L285.08,396.44 L284.53,395.23 L287.08,394.17 L287.55,395.42 L288.45,395.42 L288.92,394.17 L291.47,395.23 L290.92,396.44 L291.56,397.08 L292.77,396.53 L293.83,399.08 L292.58,399.55Z M290.80,400.00 A2.8,2.8 0 1 0 285.20,400.00 A2.8,2.8 0 1 0 290.80,400.00Z" fill="#ececec" fill-rule="evenodd"/><path d="M298.5,395 L299.7,396.2 L300.9,395" fill="none" stroke="#d8d8d8" stroke-width="0.5"/><text transform="translate(288.0,413.1) scale(1.0,1)" font-size="4.6" fill="#d9d9d9" text-anchor="middle">Select1/3</text><path d="M249,432.8 L253.4,428.4" stroke="#e6e6e6" stroke-width="2.6" stroke-linecap="butt"/><path d="M249.3,432.5 L253.2,428.6" stroke="#f4f4f4" stroke-width="1"/><path d="M249,423 L253.8,427.8" stroke="#dedede" stroke-width="2.8" stroke-linecap="butt"/><path d="M249.4,423.4 L253,427" stroke="#8fc3ee" stroke-width="0.7" opacity="0"/><path d="M253,428 H257" stroke="#dcdcdc" stroke-width="2.6"/><path d="M256.2,424.7 L259.6,428 L256.2,431.3Z" fill="#dcdcdc"/><path d="M264.5,423 L265.7,424.2 L266.9,423" fill="none" stroke="#d8d8d8" stroke-width="0.5"/><text transform="translate(254.0,441.1) scale(1.0,1)" font-size="4.6" fill="#d9d9d9" text-anchor="middle">Join</text><path d="M292.58,428.45 L293.83,428.92 L292.77,431.47 L291.56,430.92 L290.92,431.56 L291.47,432.77 L288.92,433.83 L288.45,432.58 L287.55,432.58 L287.08,433.83 L284.53,432.77 L285.08,431.56 L284.44,430.92 L283.23,431.47 L282.17,428.92 L283.42,428.45 L283.42,427.55 L282.17,427.08 L283.23,424.53 L284.44,425.08 L285.08,424.44 L284.53,423.23 L287.08,422.17 L287.55,423.42 L288.45,423.42 L288.92,422.17 L291.47,423.23 L290.92,424.44 L291.56,425.08 L292.77,424.53 L293.83,427.08 L292.58,427.55Z M290.80,428.00 A2.8,2.8 0 1 0 285.20,428.00 A2.8,2.8 0 1 0 290.80,428.00Z" fill="#ececec" fill-rule="evenodd"/><path d="M298.5,423 L299.7,424.2 L300.9,423" fill="none" stroke="#d8d8d8" stroke-width="0.5"/><text transform="translate(288.0,441.1) scale(1.0,1)" font-size="4.6" fill="#d9d9d9" text-anchor="middle">Select1/2</text><rect x="344.4" y="366.4" width="9.2" height="10.4" fill="#fff" stroke="#e6e6e6" stroke-width="0.8"/><rect x="344.0" y="366.0" width="10" height="3.8" fill="#e9e9e9"/><path d="M345.0,367.9 H353.0" stroke="#fff" stroke-width="1.1" stroke-dasharray="2 1" opacity="0.6"/><path d="M344.4,373.2 H353.6 M347.4,369.8 V376.8 M350.6,369.8 V373.0" stroke="#e6e6e6" stroke-width="0.6"/><path d="M349.2,373.4 H352.8 V371.8 L355.4,374.3 L352.8,376.8 V375.2 H349.2Z" fill="#e2e2e2"/><path d="M360.0,366.5 L361.2,367.7 L362.4,366.5" fill="none" stroke="#d8d8d8" stroke-width="0.5"/><text transform="translate(349.5,384.6) scale(1.0,1)" font-size="4.6" fill="#d9d9d9" text-anchor="middle">Table/3</text><path d="M386.58,371.95 L387.83,372.42 L386.77,374.97 L385.56,374.42 L384.92,375.06 L385.47,376.27 L382.92,377.33 L382.45,376.08 L381.55,376.08 L381.08,377.33 L378.53,376.27 L379.08,375.06 L378.44,374.42 L377.23,374.97 L376.17,372.42 L377.42,371.95 L377.42,371.05 L376.17,370.58 L377.23,368.03 L378.44,368.58 L379.08,367.94 L378.53,366.73 L381.08,365.67 L381.55,366.92 L382.45,366.92 L382.92,365.67 L385.47,366.73 L384.92,367.94 L385.56,368.58 L386.77,368.03 L387.83,370.58 L386.58,371.05Z M384.80,371.50 A2.8,2.8 0 1 0 379.20,371.50 A2.8,2.8 0 1 0 384.80,371.50Z" fill="#ececec" fill-rule="evenodd"/><path d="M392.5,366.5 L393.7,367.7 L394.9,366.5" fill="none" stroke="#d8d8d8" stroke-width="0.5"/><text transform="translate(382.0,384.6) scale(1.0,1)" font-size="4.6" fill="#d9d9d9" text-anchor="middle">Select1/5</text><rect x="339.8" y="391.3" width="22.6" height="17.4" fill="#fff" stroke="#3d8fd1" stroke-width="1"/><path d="M343.2,404.5 L347.59999999999997,400.09999999999997" stroke="#a9cbe8" stroke-width="2.6" stroke-linecap="butt"/><path d="M343.5,404.2 L347.4,400.3" stroke="#ffffff" stroke-width="1"/><path d="M343.2,394.7 L348.0,399.5" stroke="#2f86d0" stroke-width="2.8" stroke-linecap="butt"/><path d="M343.59999999999997,395.09999999999997 L347.2,398.7" stroke="#8fc3ee" stroke-width="0.7" opacity="0.9"/><path d="M347.2,399.7 H351.2" stroke="#2f86d0" stroke-width="2.6"/><path d="M350.4,396.4 L353.8,399.7 L350.4,403.0Z" fill="#2f86d0"/><path d="M358.7,394.7 L359.9,395.9 L361.09999999999997,394.7" fill="none" stroke="#aaa" stroke-width="0.5"/><text transform="translate(348.2,412.8) scale(1.0,1)" font-size="4.6" fill="#959595" text-anchor="middle">Join/1</text><path d="M386.38,400.15 L387.63,400.62 L386.57,403.17 L385.36,402.62 L384.72,403.26 L385.27,404.47 L382.72,405.53 L382.25,404.28 L381.35,404.28 L380.88,405.53 L378.33,404.47 L378.88,403.26 L378.24,402.62 L377.03,403.17 L375.97,400.62 L377.22,400.15 L377.22,399.25 L375.97,398.78 L377.03,396.23 L378.24,396.78 L378.88,396.14 L378.33,394.93 L380.88,393.87 L381.35,395.12 L382.25,395.12 L382.72,393.87 L385.27,394.93 L384.72,396.14 L385.36,396.78 L386.57,396.23 L387.63,398.78 L386.38,399.25Z M384.60,399.70 A2.8,2.8 0 1 0 379.00,399.70 A2.8,2.8 0 1 0 384.60,399.70Z" fill="url(#gg)" fill-rule="evenodd"/><path d="M392.3,394.7 L393.5,395.9 L394.7,394.7" fill="none" stroke="#aaa" stroke-width="0.5"/><text transform="translate(381.8,412.8) scale(1.0,1)" font-size="4.6" fill="#959595" text-anchor="middle">Select1/4</text><rect x="436.9" y="338.2" width="9.2" height="10.4" fill="#fff" stroke="#e6e6e6" stroke-width="0.8"/><rect x="436.5" y="337.8" width="10" height="3.8" fill="#e9e9e9"/><path d="M437.5,339.7 H445.5" stroke="#fff" stroke-width="1.1" stroke-dasharray="2 1" opacity="0.6"/><path d="M436.9,345.0 H446.1 M439.9,341.6 V348.6 M443.1,341.6 V344.8" stroke="#e6e6e6" stroke-width="0.6"/><path d="M441.7,345.2 H445.3 V343.6 L447.9,346.1 L445.3,348.6 V347.0 H441.7Z" fill="#e2e2e2"/><path d="M452.5,338.3 L453.7,339.5 L454.9,338.3" fill="none" stroke="#d8d8d8" stroke-width="0.5"/><text transform="translate(442.0,356.4) scale(1.0,1)" font-size="4.6" fill="#d9d9d9" text-anchor="middle">Table/4</text><path d="M480.58,343.75 L481.83,344.22 L480.77,346.77 L479.56,346.22 L478.92,346.86 L479.47,348.07 L476.92,349.13 L476.45,347.88 L475.55,347.88 L475.08,349.13 L472.53,348.07 L473.08,346.86 L472.44,346.22 L471.23,346.77 L470.17,344.22 L471.42,343.75 L471.42,342.85 L470.17,342.38 L471.23,339.83 L472.44,340.38 L473.08,339.74 L472.53,338.53 L475.08,337.47 L475.55,338.72 L476.45,338.72 L476.92,337.47 L479.47,338.53 L478.92,339.74 L479.56,340.38 L480.77,339.83 L481.83,342.38 L480.58,342.85Z M478.80,343.30 A2.8,2.8 0 1 0 473.20,343.30 A2.8,2.8 0 1 0 478.80,343.30Z" fill="#ececec" fill-rule="evenodd"/><path d="M486.5,338.3 L487.7,339.5 L488.9,338.3" fill="none" stroke="#d8d8d8" stroke-width="0.5"/><text transform="translate(476.0,356.4) scale(1.0,1)" font-size="4.6" fill="#d9d9d9" text-anchor="middle">Select1/7</text><path d="M437,376.3 L441.4,371.9" stroke="#a9cbe8" stroke-width="2.6" stroke-linecap="butt"/><path d="M437.3,376.0 L441.2,372.1" stroke="#ffffff" stroke-width="1"/><path d="M437,366.5 L441.8,371.3" stroke="#2f86d0" stroke-width="2.8" stroke-linecap="butt"/><path d="M437.4,366.9 L441,370.5" stroke="#8fc3ee" stroke-width="0.7" opacity="0.9"/><path d="M441,371.5 H445" stroke="#2f86d0" stroke-width="2.6"/><path d="M444.2,368.2 L447.6,371.5 L444.2,374.8Z" fill="#2f86d0"/><path d="M452.5,366.5 L453.7,367.7 L454.9,366.5" fill="none" stroke="#aaa" stroke-width="0.5"/><text transform="translate(442.0,384.6) scale(1.0,1)" font-size="4.6" fill="#959595" text-anchor="middle">Join/2</text><path d="M480.58,371.95 L481.83,372.42 L480.77,374.97 L479.56,374.42 L478.92,375.06 L479.47,376.27 L476.92,377.33 L476.45,376.08 L475.55,376.08 L475.08,377.33 L472.53,376.27 L473.08,375.06 L472.44,374.42 L471.23,374.97 L470.17,372.42 L471.42,371.95 L471.42,371.05 L470.17,370.58 L471.23,368.03 L472.44,368.58 L473.08,367.94 L472.53,366.73 L475.08,365.67 L475.55,366.92 L476.45,366.92 L476.92,365.67 L479.47,366.73 L478.92,367.94 L479.56,368.58 L480.77,368.03 L481.83,370.58 L480.58,371.05Z M478.80,371.50 A2.8,2.8 0 1 0 473.20,371.50 A2.8,2.8 0 1 0 478.80,371.50Z" fill="url(#gg)" fill-rule="evenodd"/><path d="M486.5,366.5 L487.7,367.7 L488.9,366.5" fill="none" stroke="#aaa" stroke-width="0.5"/><text transform="translate(476.0,384.6) scale(1.0,1)" font-size="4.6" fill="#959595" text-anchor="middle">Select1/6</text><rect x="530.4" y="309.9" width="9.2" height="10.4" fill="#fff" stroke="#e6e6e6" stroke-width="0.8"/><rect x="530.0" y="309.5" width="10" height="3.8" fill="#e9e9e9"/><path d="M531.0,311.4 H539.0" stroke="#fff" stroke-width="1.1" stroke-dasharray="2 1" opacity="0.6"/><path d="M530.4,316.7 H539.6 M533.4,313.3 V320.3 M536.6,313.3 V316.5" stroke="#e6e6e6" stroke-width="0.6"/><path d="M535.2,316.9 H538.8 V315.3 L541.4,317.8 L538.8,320.3 V318.7 H535.2Z" fill="#e2e2e2"/><path d="M546.0,310 L547.2,311.2 L548.4,310" fill="none" stroke="#d8d8d8" stroke-width="0.5"/><text transform="translate(535.5,328.1) scale(1.0,1)" font-size="4.6" fill="#d9d9d9" text-anchor="middle">Table/5</text><path d="M574.08,315.45 L575.33,315.92 L574.27,318.47 L573.06,317.92 L572.42,318.56 L572.97,319.77 L570.42,320.83 L569.95,319.58 L569.05,319.58 L568.58,320.83 L566.03,319.77 L566.58,318.56 L565.94,317.92 L564.73,318.47 L563.67,315.92 L564.92,315.45 L564.92,314.55 L563.67,314.08 L564.73,311.53 L565.94,312.08 L566.58,311.44 L566.03,310.23 L568.58,309.17 L569.05,310.42 L569.95,310.42 L570.42,309.17 L572.97,310.23 L572.42,311.44 L573.06,312.08 L574.27,311.53 L575.33,314.08 L574.08,314.55Z M572.30,315.00 A2.8,2.8 0 1 0 566.70,315.00 A2.8,2.8 0 1 0 572.30,315.00Z" fill="#ececec" fill-rule="evenodd"/><path d="M580.0,310 L581.2,311.2 L582.4,310" fill="none" stroke="#d8d8d8" stroke-width="0.5"/><text transform="translate(569.5,328.1) scale(1.0,1)" font-size="4.6" fill="#d9d9d9" text-anchor="middle">Select1/9</text><path d="M530.5,348.1 L534.9,343.7" stroke="#a9cbe8" stroke-width="2.6" stroke-linecap="butt"/><path d="M530.8,347.8 L534.7,343.90000000000003" stroke="#ffffff" stroke-width="1"/><path d="M530.5,338.3 L535.3,343.1" stroke="#2f86d0" stroke-width="2.8" stroke-linecap="butt"/><path d="M530.9,338.7 L534.5,342.3" stroke="#8fc3ee" stroke-width="0.7" opacity="0.9"/><path d="M534.5,343.3 H538.5" stroke="#2f86d0" stroke-width="2.6"/><path d="M537.7,340.0 L541.1,343.3 L537.7,346.6Z" fill="#2f86d0"/><path d="M546.0,338.3 L547.2,339.5 L548.4,338.3" fill="none" stroke="#aaa" stroke-width="0.5"/><text transform="translate(535.5,356.4) scale(1.0,1)" font-size="4.6" fill="#959595" text-anchor="middle">Join/3</text><path d="M574.08,343.75 L575.33,344.22 L574.27,346.77 L573.06,346.22 L572.42,346.86 L572.97,348.07 L570.42,349.13 L569.95,347.88 L569.05,347.88 L568.58,349.13 L566.03,348.07 L566.58,346.86 L565.94,346.22 L564.73,346.77 L563.67,344.22 L564.92,343.75 L564.92,342.85 L563.67,342.38 L564.73,339.83 L565.94,340.38 L566.58,339.74 L566.03,338.53 L568.58,337.47 L569.05,338.72 L569.95,338.72 L570.42,337.47 L572.97,338.53 L572.42,339.74 L573.06,340.38 L574.27,339.83 L575.33,342.38 L574.08,342.85Z M572.30,343.30 A2.8,2.8 0 1 0 566.70,343.30 A2.8,2.8 0 1 0 572.30,343.30Z" fill="url(#gg)" fill-rule="evenodd"/><path d="M580.0,338.3 L581.2,339.5 L582.4,338.3" fill="none" stroke="#aaa" stroke-width="0.5"/><text transform="translate(569.5,356.4) scale(1.0,1)" font-size="4.6" fill="#959595" text-anchor="middle">Select1/8</text><rect x="624.4" y="281.9" width="9.2" height="10.4" fill="#fff" stroke="#e6e6e6" stroke-width="0.8"/><rect x="624.0" y="281.5" width="10" height="3.8" fill="#e9e9e9"/><path d="M625.0,283.4 H633.0" stroke="#fff" stroke-width="1.1" stroke-dasharray="2 1" opacity="0.6"/><path d="M624.4,288.7 H633.6 M627.4,285.3 V292.3 M630.6,285.3 V288.5" stroke="#e6e6e6" stroke-width="0.6"/><path d="M629.2,288.9 H632.8 V287.3 L635.4,289.8 L632.8,292.3 V290.7 H629.2Z" fill="#e2e2e2"/><path d="M640.0,282 L641.2,283.2 L642.4,282" fill="none" stroke="#d8d8d8" stroke-width="0.5"/><text transform="translate(629.5,300.1) scale(1.0,1)" font-size="4.6" fill="#d9d9d9" text-anchor="middle">Table/6</text><path d="M668.58,287.45 L669.83,287.92 L668.77,290.47 L667.56,289.92 L666.92,290.56 L667.47,291.77 L664.92,292.83 L664.45,291.58 L663.55,291.58 L663.08,292.83 L660.53,291.77 L661.08,290.56 L660.44,289.92 L659.23,290.47 L658.17,287.92 L659.42,287.45 L659.42,286.55 L658.17,286.08 L659.23,283.53 L660.44,284.08 L661.08,283.44 L660.53,282.23 L663.08,281.17 L663.55,282.42 L664.45,282.42 L664.92,281.17 L667.47,282.23 L666.92,283.44 L667.56,284.08 L668.77,283.53 L669.83,286.08 L668.58,286.55Z M666.80,287.00 A2.8,2.8 0 1 0 661.20,287.00 A2.8,2.8 0 1 0 666.80,287.00Z" fill="#ececec" fill-rule="evenodd"/><path d="M674.5,282 L675.7,283.2 L676.9,282" fill="none" stroke="#d8d8d8" stroke-width="0.5"/><text transform="translate(664.0,300.1) scale(1.0,1)" font-size="4.6" fill="#d9d9d9" text-anchor="middle">Select1/11</text><path d="M624.5,319.8 L628.9,315.4" stroke="#a9cbe8" stroke-width="2.6" stroke-linecap="butt"/><path d="M624.8,319.5 L628.7,315.6" stroke="#ffffff" stroke-width="1"/><path d="M624.5,310 L629.3,314.8" stroke="#2f86d0" stroke-width="2.8" stroke-linecap="butt"/><path d="M624.9,310.4 L628.5,314" stroke="#8fc3ee" stroke-width="0.7" opacity="0.9"/><path d="M628.5,315 H632.5" stroke="#2f86d0" stroke-width="2.6"/><path d="M631.7,311.7 L635.1,315 L631.7,318.3Z" fill="#2f86d0"/><path d="M640.0,310 L641.2,311.2 L642.4,310" fill="none" stroke="#aaa" stroke-width="0.5"/><text transform="translate(629.5,328.1) scale(1.0,1)" font-size="4.6" fill="#959595" text-anchor="middle">Join/4</text><path d="M668.58,315.45 L669.83,315.92 L668.77,318.47 L667.56,317.92 L666.92,318.56 L667.47,319.77 L664.92,320.83 L664.45,319.58 L663.55,319.58 L663.08,320.83 L660.53,319.77 L661.08,318.56 L660.44,317.92 L659.23,318.47 L658.17,315.92 L659.42,315.45 L659.42,314.55 L658.17,314.08 L659.23,311.53 L660.44,312.08 L661.08,311.44 L660.53,310.23 L663.08,309.17 L663.55,310.42 L664.45,310.42 L664.92,309.17 L667.47,310.23 L666.92,311.44 L667.56,312.08 L668.77,311.53 L669.83,314.08 L668.58,314.55Z M666.80,315.00 A2.8,2.8 0 1 0 661.20,315.00 A2.8,2.8 0 1 0 666.80,315.00Z" fill="url(#gg)" fill-rule="evenodd"/><path d="M674.5,310 L675.7,311.2 L676.9,310" fill="none" stroke="#aaa" stroke-width="0.5"/><text transform="translate(664.0,328.1) scale(1.0,1)" font-size="4.6" fill="#959595" text-anchor="middle">Select1/10</text><rect x="718.9" y="253.9" width="9.2" height="10.4" fill="#fff" stroke="#e6e6e6" stroke-width="0.8"/><rect x="718.5" y="253.5" width="10" height="3.8" fill="#e9e9e9"/><path d="M719.5,255.4 H727.5" stroke="#fff" stroke-width="1.1" stroke-dasharray="2 1" opacity="0.6"/><path d="M718.9,260.7 H728.1 M721.9,257.3 V264.3 M725.1,257.3 V260.5" stroke="#e6e6e6" stroke-width="0.6"/><path d="M723.7,260.9 H727.3 V259.3 L729.9,261.8 L727.3,264.3 V262.7 H723.7Z" fill="#e2e2e2"/><path d="M734.5,254 L735.7,255.2 L736.9,254" fill="none" stroke="#d8d8d8" stroke-width="0.5"/><text transform="translate(724.0,272.1) scale(1.0,1)" font-size="4.6" fill="#d9d9d9" text-anchor="middle">Table/7</text><path d="M763.58,259.45 L764.83,259.92 L763.77,262.47 L762.56,261.92 L761.92,262.56 L762.47,263.77 L759.92,264.83 L759.45,263.58 L758.55,263.58 L758.08,264.83 L755.53,263.77 L756.08,262.56 L755.44,261.92 L754.23,262.47 L753.17,259.92 L754.42,259.45 L754.42,258.55 L753.17,258.08 L754.23,255.53 L755.44,256.08 L756.08,255.44 L755.53,254.23 L758.08,253.17 L758.55,254.42 L759.45,254.42 L759.92,253.17 L762.47,254.23 L761.92,255.44 L762.56,256.08 L763.77,255.53 L764.83,258.08 L763.58,258.55Z M761.80,259.00 A2.8,2.8 0 1 0 756.20,259.00 A2.8,2.8 0 1 0 761.80,259.00Z" fill="#ececec" fill-rule="evenodd"/><path d="M769.5,254 L770.7,255.2 L771.9,254" fill="none" stroke="#d8d8d8" stroke-width="0.5"/><text transform="translate(759.0,272.1) scale(1.0,1)" font-size="4.6" fill="#d9d9d9" text-anchor="middle">Select1/13</text><path d="M719,291.8 L723.4,287.4" stroke="#a9cbe8" stroke-width="2.6" stroke-linecap="butt"/><path d="M719.3,291.5 L723.2,287.6" stroke="#ffffff" stroke-width="1"/><path d="M719,282 L723.8,286.8" stroke="#2f86d0" stroke-width="2.8" stroke-linecap="butt"/><path d="M719.4,282.4 L723,286" stroke="#8fc3ee" stroke-width="0.7" opacity="0.9"/><path d="M723,287 H727" stroke="#2f86d0" stroke-width="2.6"/><path d="M726.2,283.7 L729.6,287 L726.2,290.3Z" fill="#2f86d0"/><path d="M734.5,282 L735.7,283.2 L736.9,282" fill="none" stroke="#aaa" stroke-width="0.5"/><text transform="translate(724.0,300.1) scale(1.0,1)" font-size="4.6" fill="#959595" text-anchor="middle">Join/5</text><path d="M763.58,287.45 L764.83,287.92 L763.77,290.47 L762.56,289.92 L761.92,290.56 L762.47,291.77 L759.92,292.83 L759.45,291.58 L758.55,291.58 L758.08,292.83 L755.53,291.77 L756.08,290.56 L755.44,289.92 L754.23,290.47 L753.17,287.92 L754.42,287.45 L754.42,286.55 L753.17,286.08 L754.23,283.53 L755.44,284.08 L756.08,283.44 L755.53,282.23 L758.08,281.17 L758.55,282.42 L759.45,282.42 L759.92,281.17 L762.47,282.23 L761.92,283.44 L762.56,284.08 L763.77,283.53 L764.83,286.08 L763.58,286.55Z M761.80,287.00 A2.8,2.8 0 1 0 756.20,287.00 A2.8,2.8 0 1 0 761.80,287.00Z" fill="url(#gg)" fill-rule="evenodd"/><path d="M769.5,282 L770.7,283.2 L771.9,282" fill="none" stroke="#aaa" stroke-width="0.5"/><text transform="translate(759.0,300.1) scale(1.0,1)" font-size="4.6" fill="#959595" text-anchor="middle">Select1/12</text><path d="M814,291.8 L818.4,287.4" stroke="#a9cbe8" stroke-width="2.6" stroke-linecap="butt"/><path d="M814.3,291.5 L818.2,287.6" stroke="#ffffff" stroke-width="1"/><path d="M814,282 L818.8,286.8" stroke="#2f86d0" stroke-width="2.8" stroke-linecap="butt"/><path d="M814.4,282.4 L818,286" stroke="#8fc3ee" stroke-width="0.7" opacity="0.9"/><path d="M818,287 H822" stroke="#2f86d0" stroke-width="2.6"/><path d="M821.2,283.7 L824.6,287 L821.2,290.3Z" fill="#2f86d0"/><path d="M829.5,282 L830.7,283.2 L831.9,282" fill="none" stroke="#aaa" stroke-width="0.5"/><text transform="translate(819.0,300.1) scale(1.0,1)" font-size="4.6" fill="#959595" text-anchor="middle">Join/6</text><path d="M858.08,287.45 L859.33,287.92 L858.27,290.47 L857.06,289.92 L856.42,290.56 L856.97,291.77 L854.42,292.83 L853.95,291.58 L853.05,291.58 L852.58,292.83 L850.03,291.77 L850.58,290.56 L849.94,289.92 L848.73,290.47 L847.67,287.92 L848.92,287.45 L848.92,286.55 L847.67,286.08 L848.73,283.53 L849.94,284.08 L850.58,283.44 L850.03,282.23 L852.58,281.17 L853.05,282.42 L853.95,282.42 L854.42,281.17 L856.97,282.23 L856.42,283.44 L857.06,284.08 L858.27,283.53 L859.33,286.08 L858.08,286.55Z M856.30,287.00 A2.8,2.8 0 1 0 850.70,287.00 A2.8,2.8 0 1 0 856.30,287.00Z" fill="url(#gg)" fill-rule="evenodd"/><path d="M864.0,282 L865.2,283.2 L866.4,282" fill="none" stroke="#aaa" stroke-width="0.5"/><text transform="translate(853.5,300.1) scale(1.0,1)" font-size="4.6" fill="#959595" text-anchor="middle">Select1/14</text><path d="M924.58,230.95 L925.83,231.42 L924.77,233.97 L923.56,233.42 L922.92,234.06 L923.47,235.27 L920.92,236.33 L920.45,235.08 L919.55,235.08 L919.08,236.33 L916.53,235.27 L917.08,234.06 L916.44,233.42 L915.23,233.97 L914.17,231.42 L915.42,230.95 L915.42,230.05 L914.17,229.58 L915.23,227.03 L916.44,227.58 L917.08,226.94 L916.53,225.73 L919.08,224.67 L919.55,225.92 L920.45,225.92 L920.92,224.67 L923.47,225.73 L922.92,226.94 L923.56,227.58 L924.77,227.03 L925.83,229.58 L924.58,230.05Z M922.80,230.50 A2.8,2.8 0 1 0 917.20,230.50 A2.8,2.8 0 1 0 922.80,230.50Z" fill="url(#gg)" fill-rule="evenodd"/><path d="M930.5,225.5 L931.7,226.7 L932.9,225.5" fill="none" stroke="#aaa" stroke-width="0.5"/><text transform="translate(920.0,243.6) scale(1.0,1)" font-size="4.6" fill="#959595" text-anchor="middle">Select1/19</text><path d="M924.58,258.95 L925.83,259.42 L924.77,261.97 L923.56,261.42 L922.92,262.06 L923.47,263.27 L920.92,264.33 L920.45,263.08 L919.55,263.08 L919.08,264.33 L916.53,263.27 L917.08,262.06 L916.44,261.42 L915.23,261.97 L914.17,259.42 L915.42,258.95 L915.42,258.05 L914.17,257.58 L915.23,255.03 L916.44,255.58 L917.08,254.94 L916.53,253.73 L919.08,252.67 L919.55,253.92 L920.45,253.92 L920.92,252.67 L923.47,253.73 L922.92,254.94 L923.56,255.58 L924.77,255.03 L925.83,257.58 L924.58,258.05Z M922.80,258.50 A2.8,2.8 0 1 0 917.20,258.50 A2.8,2.8 0 1 0 922.80,258.50Z" fill="url(#gg)" fill-rule="evenodd"/><path d="M930.5,253.5 L931.7,254.7 L932.9,253.5" fill="none" stroke="#aaa" stroke-width="0.5"/><text transform="translate(920.0,271.6) scale(1.0,1)" font-size="4.6" fill="#959595" text-anchor="middle">Select1/18</text><path d="M924.58,287.45 L925.83,287.92 L924.77,290.47 L923.56,289.92 L922.92,290.56 L923.47,291.77 L920.92,292.83 L920.45,291.58 L919.55,291.58 L919.08,292.83 L916.53,291.77 L917.08,290.56 L916.44,289.92 L915.23,290.47 L914.17,287.92 L915.42,287.45 L915.42,286.55 L914.17,286.08 L915.23,283.53 L916.44,284.08 L917.08,283.44 L916.53,282.23 L919.08,281.17 L919.55,282.42 L920.45,282.42 L920.92,281.17 L923.47,282.23 L922.92,283.44 L923.56,284.08 L924.77,283.53 L925.83,286.08 L924.58,286.55Z M922.80,287.00 A2.8,2.8 0 1 0 917.20,287.00 A2.8,2.8 0 1 0 922.80,287.00Z" fill="url(#gg)" fill-rule="evenodd"/><path d="M930.5,282 L931.7,283.2 L932.9,282" fill="none" stroke="#aaa" stroke-width="0.5"/><text transform="translate(920.0,300.1) scale(1.0,1)" font-size="4.6" fill="#959595" text-anchor="middle">Select1/17</text><path d="M924.58,315.45 L925.83,315.92 L924.77,318.47 L923.56,317.92 L922.92,318.56 L923.47,319.77 L920.92,320.83 L920.45,319.58 L919.55,319.58 L919.08,320.83 L916.53,319.77 L917.08,318.56 L916.44,317.92 L915.23,318.47 L914.17,315.92 L915.42,315.45 L915.42,314.55 L914.17,314.08 L915.23,311.53 L916.44,312.08 L917.08,311.44 L916.53,310.23 L919.08,309.17 L919.55,310.42 L920.45,310.42 L920.92,309.17 L923.47,310.23 L922.92,311.44 L923.56,312.08 L924.77,311.53 L925.83,314.08 L924.58,314.55Z M922.80,315.00 A2.8,2.8 0 1 0 917.20,315.00 A2.8,2.8 0 1 0 922.80,315.00Z" fill="url(#gg)" fill-rule="evenodd"/><path d="M930.5,310 L931.7,311.2 L932.9,310" fill="none" stroke="#aaa" stroke-width="0.5"/><text transform="translate(920.0,328.1) scale(1.0,1)" font-size="4.6" fill="#959595" text-anchor="middle">Select1/16</text><path d="M924.58,343.75 L925.83,344.22 L924.77,346.77 L923.56,346.22 L922.92,346.86 L923.47,348.07 L920.92,349.13 L920.45,347.88 L919.55,347.88 L919.08,349.13 L916.53,348.07 L917.08,346.86 L916.44,346.22 L915.23,346.77 L914.17,344.22 L915.42,343.75 L915.42,342.85 L914.17,342.38 L915.23,339.83 L916.44,340.38 L917.08,339.74 L916.53,338.53 L919.08,337.47 L919.55,338.72 L920.45,338.72 L920.92,337.47 L923.47,338.53 L922.92,339.74 L923.56,340.38 L924.77,339.83 L925.83,342.38 L924.58,342.85Z M922.80,343.30 A2.8,2.8 0 1 0 917.20,343.30 A2.8,2.8 0 1 0 922.80,343.30Z" fill="url(#gg)" fill-rule="evenodd"/><path d="M930.5,338.3 L931.7,339.5 L932.9,338.3" fill="none" stroke="#aaa" stroke-width="0.5"/><text transform="translate(920.0,356.4) scale(1.0,1)" font-size="4.6" fill="#959595" text-anchor="middle">Select1/15</text><rect x="976.0" y="225.4" width="9.2" height="10.4" fill="#fff" stroke="#e6e6e6" stroke-width="0.8"/><rect x="975.6" y="225.0" width="10" height="3.8" fill="#e9e9e9"/><path d="M976.6,226.9 H984.6" stroke="#fff" stroke-width="1.1" stroke-dasharray="2 1" opacity="0.6"/><path d="M976.0,232.2 H985.2 M979.0,228.8 V235.8 M982.2,228.8 V235.8" stroke="#e6e6e6" stroke-width="0.6"/><path d="M974.2,231.8 H978.0 V230.2 L981.0,232.9 L978.0,235.6 V234.0 H974.2Z" fill="#e2e2e2"/><path d="M990.7,225.5 L991.9000000000001,226.7 L993.1,225.5" fill="none" stroke="#d8d8d8" stroke-width="0.5"/><text transform="translate(980.2,243.6) scale(1.1,1)" font-size="4.6" fill="#d9d9d9" text-anchor="middle">demo.dimensional_dw.custom...</text><rect x="1075.5" y="225.0" width="11" height="11" fill="#fff" stroke="#ebebeb" stroke-width="1"/><rect x="1075.5" y="225.0" width="11" height="3" fill="#f0f0f0" stroke="#ebebeb" stroke-width="0.6"/><path d="M1075.5,231.5 H1086.5 M1075.5,234.0 H1086.5 M1079,228.0 V236.0 M1083,228.0 V236.0" stroke="#ebebeb" stroke-width="0.6"/><path d="M1076.5,226.5 H1085.5" stroke="#f4f4f4" stroke-width="0.6" stroke-dasharray="2 0.8"/><path d="M1091.5,225.5 L1092.7,226.7 L1093.9,225.5" fill="none" stroke="#d8d8d8" stroke-width="0.5"/><text transform="translate(1081.0,243.6) scale(1.1,1)" font-size="4.6" fill="#d9d9d9" text-anchor="middle">customer_po_date</text><rect x="976.0" y="253.4" width="9.2" height="10.4" fill="#fff" stroke="#c8c8c8" stroke-width="0.8"/><rect x="975.6" y="253.0" width="10" height="3.8" fill="#3e95dc"/><path d="M976.6,254.9 H984.6" stroke="#fff" stroke-width="1.1" stroke-dasharray="2 1" opacity="0.6"/><path d="M976.0,260.2 H985.2 M979.0,256.8 V263.8 M982.2,256.8 V263.8" stroke="#c8c8c8" stroke-width="0.6"/><path d="M974.2,259.8 H978.0 V258.2 L981.0,260.9 L978.0,263.6 V262.0 H974.2Z" fill="#2f86d0"/><path d="M990.7,253.5 L991.9000000000001,254.7 L993.1,253.5" fill="none" stroke="#aaa" stroke-width="0.5"/><text transform="translate(980.2,271.6) scale(1.1,1)" font-size="4.6" fill="#959595" text-anchor="middle">demo.dimensional_dw.invoice...</text><rect x="1075.5" y="253.0" width="11" height="11" fill="#fff" stroke="#c4c4c4" stroke-width="1"/><rect x="1075.5" y="253.0" width="11" height="3" fill="#c9a74c" stroke="#c4c4c4" stroke-width="0.6"/><path d="M1075.5,259.5 H1086.5 M1075.5,262.0 H1086.5 M1079,256.0 V264.0 M1083,256.0 V264.0" stroke="#c4c4c4" stroke-width="0.6"/><path d="M1091.5,253.5 L1092.7,254.7 L1093.9,253.5" fill="none" stroke="#aaa" stroke-width="0.5"/><text transform="translate(1081.0,271.6) scale(1.0,1)" font-size="4.6" fill="#959595" text-anchor="middle">invoice_date</text><rect x="976.0" y="281.9" width="9.2" height="10.4" fill="#fff" stroke="#c8c8c8" stroke-width="0.8"/><rect x="975.6" y="281.5" width="10" height="3.8" fill="#3e95dc"/><path d="M976.6,283.4 H984.6" stroke="#fff" stroke-width="1.1" stroke-dasharray="2 1" opacity="0.6"/><path d="M976.0,288.7 H985.2 M979.0,285.3 V292.3 M982.2,285.3 V292.3" stroke="#c8c8c8" stroke-width="0.6"/><path d="M974.2,288.3 H978.0 V286.7 L981.0,289.4 L978.0,292.1 V290.5 H974.2Z" fill="#2f86d0"/><path d="M990.7,282 L991.9000000000001,283.2 L993.1,282" fill="none" stroke="#aaa" stroke-width="0.5"/><text transform="translate(980.2,300.1) scale(1.1,1)" font-size="4.6" fill="#959595" text-anchor="middle">demo.dimensional_dw.custom...</text><rect x="1075.5" y="281.5" width="11" height="11" fill="#fff" stroke="#c4c4c4" stroke-width="1"/><rect x="1075.5" y="281.5" width="11" height="3" fill="#c9a74c" stroke="#c4c4c4" stroke-width="0.6"/><path d="M1075.5,288 H1086.5 M1075.5,290.5 H1086.5 M1079,284.5 V292.5 M1083,284.5 V292.5" stroke="#c4c4c4" stroke-width="0.6"/><path d="M1091.5,282 L1092.7,283.2 L1093.9,282" fill="none" stroke="#aaa" stroke-width="0.5"/><text transform="translate(1081.0,300.1) scale(1.1,1)" font-size="4.6" fill="#959595" text-anchor="middle">customer_po_invoice_item</text><rect x="976.0" y="309.9" width="9.2" height="10.4" fill="#fff" stroke="#e6e6e6" stroke-width="0.8"/><rect x="975.6" y="309.5" width="10" height="3.8" fill="#e9e9e9"/><path d="M976.6,311.4 H984.6" stroke="#fff" stroke-width="1.1" stroke-dasharray="2 1" opacity="0.6"/><path d="M976.0,316.7 H985.2 M979.0,313.3 V320.3 M982.2,313.3 V320.3" stroke="#e6e6e6" stroke-width="0.6"/><path d="M974.2,316.3 H978.0 V314.7 L981.0,317.4 L978.0,320.1 V318.5 H974.2Z" fill="#e2e2e2"/><path d="M990.7,310 L991.9000000000001,311.2 L993.1,310" fill="none" stroke="#d8d8d8" stroke-width="0.5"/><text transform="translate(980.2,328.1) scale(1.1,1)" font-size="4.6" fill="#d9d9d9" text-anchor="middle">demo.dimensional_dw.custom...</text><rect x="1075.5" y="309.5" width="11" height="11" fill="#fff" stroke="#ebebeb" stroke-width="1"/><rect x="1075.5" y="309.5" width="11" height="3" fill="#f0f0f0" stroke="#ebebeb" stroke-width="0.6"/><path d="M1075.5,316 H1086.5 M1075.5,318.5 H1086.5 M1079,312.5 V320.5 M1083,312.5 V320.5" stroke="#ebebeb" stroke-width="0.6"/><path d="M1076.5,311 H1085.5" stroke="#f4f4f4" stroke-width="0.6" stroke-dasharray="2 0.8"/><path d="M1091.5,310 L1092.7,311.2 L1093.9,310" fill="none" stroke="#d8d8d8" stroke-width="0.5"/><text transform="translate(1081.0,328.1) scale(1.1,1)" font-size="4.6" fill="#d9d9d9" text-anchor="middle">customer_payment_date</text><rect x="976.0" y="338.2" width="9.2" height="10.4" fill="#fff" stroke="#c8c8c8" stroke-width="0.8"/><rect x="975.6" y="337.8" width="10" height="3.8" fill="#3e95dc"/><path d="M976.6,339.7 H984.6" stroke="#fff" stroke-width="1.1" stroke-dasharray="2 1" opacity="0.6"/><path d="M976.0,345.0 H985.2 M979.0,341.6 V348.6 M982.2,341.6 V348.6" stroke="#c8c8c8" stroke-width="0.6"/><path d="M974.2,344.6 H978.0 V343.0 L981.0,345.7 L978.0,348.40000000000003 V346.8 H974.2Z" fill="#2f86d0"/><path d="M990.7,338.3 L991.9000000000001,339.5 L993.1,338.3" fill="none" stroke="#aaa" stroke-width="0.5"/><text transform="translate(980.2,356.4) scale(1.1,1)" font-size="4.6" fill="#959595" text-anchor="middle">demo.dimensional_dw.customer</text><rect x="1075.5" y="337.8" width="11" height="11" fill="#fff" stroke="#c4c4c4" stroke-width="1"/><rect x="1075.5" y="337.8" width="11" height="3" fill="#c9a74c" stroke="#c4c4c4" stroke-width="0.6"/><path d="M1075.5,344.3 H1086.5 M1075.5,346.8 H1086.5 M1079,340.8 V348.8 M1083,340.8 V348.8" stroke="#c4c4c4" stroke-width="0.6"/><path d="M1091.5,338.3 L1092.7,339.5 L1093.9,338.3" fill="none" stroke="#aaa" stroke-width="0.5"/><text transform="translate(1081.0,356.4) scale(1.0,1)" font-size="4.6" fill="#959595" text-anchor="middle">customer</text><rect x="1153.9" y="281.5" width="11" height="11" fill="#fff" stroke="#c4c4c4" stroke-width="1"/><rect x="1153.9" y="281.5" width="11" height="3" fill="#c9a74c" stroke="#c4c4c4" stroke-width="0.6"/><path d="M1153.9,288 H1164.9 M1153.9,290.5 H1164.9 M1157.4,284.5 V292.5 M1161.4,284.5 V292.5" stroke="#c4c4c4" stroke-width="0.6"/><circle cx="1160.6000000000001" cy="288.2" r="2.7" fill="#fff" fill-opacity="0.6" stroke="#2d7fcc" stroke-width="1"/><path d="M1162.6000000000001,290.2 L1165.2,292.8" stroke="#2d7fcc" stroke-width="1.3"/><path d="M1169.9,282 L1171.1000000000001,283.2 L1172.3000000000002,282" fill="none" stroke="#aaa" stroke-width="0.5"/><text transform="translate(1159.4,300.1) scale(1.1,1)" font-size="4.6" fill="#959595" text-anchor="middle">gold_customer_po_gl_account...</text></svg></div><div class="bx" style="left:2px;top:566px;width:1223px;height:4px;background:#dcdcdc"></div><div class="bx" style="left:589px;top:566px;width:48px;height:4px;background:#8f8f8f"></div><svg class="ic" style="left:608px;top:566px;width:10px;height:4px;" viewBox="0 0 10 4"><path d="M0 0 H10 L5 4Z" fill="#444"/></svg><div class="bx" style="left:2px;top:570px;width:455px;height:30px;background:#fafafa"></div><div class="bx" style="left:2px;top:600px;width:455px;height:1px;background:#e6e6e6"></div><div class="bx" style="left:2px;top:601px;width:455px;height:150px;background:#fff"></div><span class="t " style="left:10.70px;top:578.17px;font-size:14px;color:#2f87cf;font-weight:bold;letter-spacing:-0.543px;">Processes that make</span><span class="t " style="left:143.10px;top:578.17px;font-size:14px;color:#2f87cf;font-weight:bold;font-style:italic;letter-spacing:-0.745px;">Join/1</span><svg class="ic" style="left:430px;top:578px;width:14px;height:14px;" viewBox="0 0 14 14"><path d="M7 0.5v8" stroke="#2f87cf" stroke-width="2.6"/><path d="M2.6 5.6 L7 10.2 L11.4 5.6Z" fill="#2f87cf"/><path d="M1 9v4h12V9" stroke="#2f87cf" stroke-width="2" fill="none"/></svg><div class="bx" style="left:2px;top:601px;width:455px;height:29px;background:#f0f0f0"></div><div class="bx" style="left:2px;top:630px;width:455px;height:1px;background:#dcdcdc"></div><span class="t " style="left:11.30px;top:609.86px;font-size:12px;color:#4a4a4a;font-weight:bold;letter-spacing:-0.858px;">Process</span><svg class="ic" style="left:11.3px;top:641px;width:24.0px;height:24.0px;" viewBox="0 0 32 32"><rect x="1.3" y="1.3" width="25.6" height="29.6" rx="3" fill="#fff" stroke="#c8c8c8" stroke-width="2"/><rect x="4.1" y="4.1" width="19.7" height="3.8" fill="#4aa8e8"/><path d="M5 27 V11.1 H22.9 V16 M5 15 H13 M5 21 H13 M13 11.1 V27 M5 27 H13" stroke="#c8c8c8" stroke-width="1.8" fill="none"/><circle cx="23.1" cy="22.8" r="10.3" fill="#fafafa"/><path d="M29.67,23.45 L31.77,24.81 L30.65,27.51 L28.20,26.99 L27.29,27.90 L27.81,30.35 L25.11,31.47 L23.75,29.37 L22.45,29.37 L21.09,31.47 L18.39,30.35 L18.91,27.90 L18.00,26.99 L15.55,27.51 L14.43,24.81 L16.53,23.45 L16.53,22.15 L14.43,20.79 L15.55,18.09 L18.00,18.61 L18.91,17.70 L18.39,15.25 L21.09,14.13 L22.45,16.23 L23.75,16.23 L25.11,14.13 L27.81,15.25 L27.29,17.70 L28.20,18.61 L30.65,18.09 L31.77,20.79 L29.67,22.15Z M27.60,22.80 A4.5,4.5 0 1 0 18.60,22.80 A4.5,4.5 0 1 0 27.60,22.80Z" fill="#3189d0" fill-rule="evenodd"/></svg><span class="t " style="left:42.40px;top:637.02px;font-size:13px;color:#333;letter-spacing:-0.411px;">Customer PO Invoice Item</span><svg class="ic" style="left:42.4px;top:654.5px;width:10.5px;height:10.5px;" viewBox="0 0 12 12"><g fill="none" stroke="#f4695b" stroke-width="1.15" stroke-linejoin="round" opacity="0.95"><path d="M6 0.8 L11 3.6 V8.4 L6 11.2 L1 8.4 V3.6 Z"/><path d="M1 5.6 L6 8.4 L11 5.6"/><path d="M3 5.4 L6 3.8 L9 5.4"/><path d="M2.6 8.4 L6 6.4 L9.4 8.4"/></g></svg><div class="bx" style="left:55px;top:650px;width:391px;height:20px;overflow:hidden"><span class="t " style="left:0.70px;top:4.02px;font-size:13px;color:#5a8ec4;letter-spacing:-0.905px;">Databricks PySpark Notebook</span><svg class="ic" style="left:153.7px;top:7.800000000000001px;width:4px;height:7px;" viewBox="0 0 4 7"><path d="M0.6 0.8 L3.3 3.5 L0.6 6.2" fill="none" stroke="#5a8ec4" stroke-width="1.1"/></svg><span class="t " style="left:161.70px;top:4.02px;font-size:13px;color:#5a8ec4;letter-spacing:-1.270px;">Shared</span><svg class="ic" style="left:200.0px;top:7.800000000000001px;width:4px;height:7px;" viewBox="0 0 4 7"><path d="M0.6 0.8 L3.3 3.5 L0.6 6.2" fill="none" stroke="#5a8ec4" stroke-width="1.1"/></svg><span class="t " style="left:208.00px;top:4.02px;font-size:13px;color:#5a8ec4;letter-spacing:-1.522px;">Demo</span><svg class="ic" style="left:240.6px;top:7.800000000000001px;width:4px;height:7px;" viewBox="0 0 4 7"><path d="M0.6 0.8 L3.3 3.5 L0.6 6.2" fill="none" stroke="#5a8ec4" stroke-width="1.1"/></svg><span class="t " style="left:248.60px;top:4.02px;font-size:13px;color:#5a8ec4;letter-spacing:-0.750px;">Staging to Dimensional DW Databricks</span></div><div class="bx" style="left:2px;top:674px;width:455px;height:1px;background:#e6e6e6"></div><div class="bx" style="left:457px;top:570px;width:4px;height:180px;background:#dcdcdc"></div><div class="bx" style="left:765px;top:570px;width:4px;height:180px;background:#dcdcdc"></div><div class="bx" style="left:457.75px;top:651.75px;width:2.5px;height:2.5px;border-radius:50%;background:#8a8a8a"></div><div class="bx" style="left:457.75px;top:658.75px;width:2.5px;height:2.5px;border-radius:50%;background:#8a8a8a"></div><div class="bx" style="left:457.75px;top:665.75px;width:2.5px;height:2.5px;border-radius:50%;background:#8a8a8a"></div><div class="bx" style="left:765.75px;top:651.75px;width:2.5px;height:2.5px;border-radius:50%;background:#8a8a8a"></div><div class="bx" style="left:765.75px;top:658.75px;width:2.5px;height:2.5px;border-radius:50%;background:#8a8a8a"></div><div class="bx" style="left:765.75px;top:665.75px;width:2.5px;height:2.5px;border-radius:50%;background:#8a8a8a"></div><div class="bx" style="left:461px;top:570px;width:304px;height:30px;background:#fafafa"></div><div class="bx" style="left:461px;top:600px;width:304px;height:1px;background:#e6e6e6"></div><div class="bx" style="left:461px;top:601px;width:304px;height:150px;background:#fff"></div><span class="t " style="left:471.00px;top:578.17px;font-size:14px;color:#2f87cf;font-weight:bold;letter-spacing:-0.345px;">Children of</span><span class="t " style="left:543.80px;top:578.17px;font-size:14px;color:#2f87cf;font-weight:bold;font-style:italic;letter-spacing:-0.745px;">Join/1</span><svg class="ic" style="left:684px;top:578px;width:14px;height:14px;" viewBox="0 0 14 14"><path d="M1 1.2 H13 L8.2 6.8 V13 L5.8 11.6 V6.8 Z" fill="none" stroke="#2f87cf" stroke-width="1.8" stroke-linejoin="round"/></svg><svg class="ic" style="left:711px;top:578px;width:14px;height:14px;" viewBox="0 0 14 14"><path d="M7 0.5v8" stroke="#2f87cf" stroke-width="2.6"/><path d="M2.6 5.6 L7 10.2 L11.4 5.6Z" fill="#2f87cf"/><path d="M1 9v4h12V9" stroke="#2f87cf" stroke-width="2" fill="none"/></svg><svg class="ic" style="left:739.5px;top:579px;width:12px;height:12px;" viewBox="0 0 12 12"><path d="M1.5 1.5 L10.5 10.5 M10.5 1.5 L1.5 10.5" stroke="#2f87cf" stroke-width="2.6"/></svg><div class="bx" style="left:461px;top:601px;width:288px;height:24px;border:1px solid #3d8fd1;background:#fff"></div><div class="bx" style="left:471px;top:608.5px;width:10.5px;height:10px;background:#efefef"></div><div class="bx" style="left:472.5px;top:613px;width:6px;height:1px;background:#555"></div><div class="bx" style="left:476px;top:603px;width:0;height:5px;border-left:1px dotted #777"></div><div class="bx" style="left:482px;top:613px;width:5px;height:0;border-top:1px dotted #777"></div><div class="bx" style="left:496.5px;top:625px;width:0;height:125px;border-left:1px dotted #777"></div><svg class="ic" style="left:487px;top:605px;width:17px;height:17px;" viewBox="0 0 17 17"><rect x="0.5" y="0.5" width="12" height="15" fill="#fff" stroke="#c2c2c2"/><rect x="1" y="1" width="11" height="2.6" fill="#4ea4e4"/><path d="M0.5 7.5 H12.5 M0.5 11.5 H8 M4.5 3.6 V15.5 M8.5 3.6 V9" stroke="#c8c8c8" stroke-width="1"/><circle cx="12.2" cy="12.2" r="5" fill="#fff"/><path d="M15.58,12.53 L16.71,13.10 L16.02,14.76 L14.83,14.36 L14.36,14.83 L14.76,16.02 L13.10,16.71 L12.53,15.58 L11.87,15.58 L11.30,16.71 L9.64,16.02 L10.04,14.83 L9.57,14.36 L8.38,14.76 L7.69,13.10 L8.82,12.53 L8.82,11.87 L7.69,11.30 L8.38,9.64 L9.57,10.04 L10.04,9.57 L9.64,8.38 L11.30,7.69 L11.87,8.82 L12.53,8.82 L13.10,7.69 L14.76,8.38 L14.36,9.57 L14.83,10.04 L16.02,9.64 L16.71,11.30 L15.58,11.87Z M14.40,12.20 A2.2,2.2 0 1 0 10.00,12.20 A2.2,2.2 0 1 0 14.40,12.20Z" fill="#3b8fd6" fill-rule="evenodd"/></svg><span class="t " style="left:506.30px;top:606.59px;font-size:13.5px;color:#222;letter-spacing:-0.756px;">Join_Out</span><div class="bx" style="left:497px;top:637px;width:8px;height:0;border-top:1px dotted #777"></div><svg class="ic" style="left:512px;top:629px;width:17px;height:17px;" viewBox="0 0 17 17"><rect x="0.5" y="0.5" width="5" height="15" fill="#fff" stroke="#bdbdbd" stroke-width="1"/><rect x="1" y="1" width="4" height="3" fill="#5aaae6"/><rect x="2" y="5" width="2" height="9.5" fill="#d4e8f8"/></svg><span class="t " style="left:526.90px;top:630.59px;font-size:13.5px;color:#222;letter-spacing:-0.866px;">Join</span><div class="bx" style="left:497px;top:661.3px;width:9px;height:0;border-top:1px dotted #777"></div><svg class="ic" style="left:507px;top:652.8px;width:17px;height:17px;" viewBox="0 0 17 17"><rect x="0.5" y="0.5" width="5" height="15" fill="#fff" stroke="#bdbdbd" stroke-width="1"/><rect x="1" y="1" width="4" height="3" fill="#5aaae6"/><rect x="2" y="5" width="2" height="9.5" fill="#d4e8f8"/><circle cx="12" cy="12" r="5" fill="#fff"/><path d="M15.38,12.33 L16.41,12.88 L15.74,14.50 L14.63,14.16 L14.16,14.63 L14.50,15.74 L12.88,16.41 L12.33,15.38 L11.67,15.38 L11.12,16.41 L9.50,15.74 L9.84,14.63 L9.37,14.16 L8.26,14.50 L7.59,12.88 L8.62,12.33 L8.62,11.67 L7.59,11.12 L8.26,9.50 L9.37,9.84 L9.84,9.37 L9.50,8.26 L11.12,7.59 L11.67,8.62 L12.33,8.62 L12.88,7.59 L14.50,8.26 L14.16,9.37 L14.63,9.84 L15.74,9.50 L16.41,11.12 L15.38,11.67Z M14.20,12.00 A2.2,2.2 0 1 0 9.80,12.00 A2.2,2.2 0 1 0 14.20,12.00Z" fill="#3b8fd6" fill-rule="evenodd"/></svg><span class="t " style="left:527.60px;top:654.59px;font-size:13.5px;color:#222;letter-spacing:-0.561px;">customer_description</span><div class="bx" style="left:497px;top:685.5px;width:9px;height:0;border-top:1px dotted #777"></div><svg class="ic" style="left:507px;top:677px;width:17px;height:17px;" viewBox="0 0 17 17"><rect x="0.5" y="0.5" width="5" height="15" fill="#fff" stroke="#bdbdbd" stroke-width="1"/><rect x="1" y="1" width="4" height="3" fill="#5aaae6"/><rect x="2" y="5" width="2" height="9.5" fill="#d4e8f8"/><circle cx="12" cy="12" r="5" fill="#fff"/><path d="M15.38,12.33 L16.41,12.88 L15.74,14.50 L14.63,14.16 L14.16,14.63 L14.50,15.74 L12.88,16.41 L12.33,15.38 L11.67,15.38 L11.12,16.41 L9.50,15.74 L9.84,14.63 L9.37,14.16 L8.26,14.50 L7.59,12.88 L8.62,12.33 L8.62,11.67 L7.59,11.12 L8.26,9.50 L9.37,9.84 L9.84,9.37 L9.50,8.26 L11.12,7.59 L11.67,8.62 L12.33,8.62 L12.88,7.59 L14.50,8.26 L14.16,9.37 L14.63,9.84 L15.74,9.50 L16.41,11.12 L15.38,11.67Z M14.20,12.00 A2.2,2.2 0 1 0 9.80,12.00 A2.2,2.2 0 1 0 14.20,12.00Z" fill="#3b8fd6" fill-rule="evenodd"/></svg><span class="t " style="left:527.60px;top:678.59px;font-size:13.5px;color:#222;letter-spacing:-0.641px;">customer_id</span><div class="bx" style="left:497px;top:709.5px;width:9px;height:0;border-top:1px dotted #777"></div><svg class="ic" style="left:507px;top:701px;width:17px;height:17px;" viewBox="0 0 17 17"><rect x="0.5" y="0.5" width="5" height="15" fill="#fff" stroke="#bdbdbd" stroke-width="1"/><rect x="1" y="1" width="4" height="3" fill="#5aaae6"/><rect x="2" y="5" width="2" height="9.5" fill="#d4e8f8"/><circle cx="12" cy="12" r="5" fill="#fff"/><path d="M15.38,12.33 L16.41,12.88 L15.74,14.50 L14.63,14.16 L14.16,14.63 L14.50,15.74 L12.88,16.41 L12.33,15.38 L11.67,15.38 L11.12,16.41 L9.50,15.74 L9.84,14.63 L9.37,14.16 L8.26,14.50 L7.59,12.88 L8.62,12.33 L8.62,11.67 L7.59,11.12 L8.26,9.50 L9.37,9.84 L9.84,9.37 L9.50,8.26 L11.12,7.59 L11.67,8.62 L12.33,8.62 L12.88,7.59 L14.50,8.26 L14.16,9.37 L14.63,9.84 L15.74,9.50 L16.41,11.12 L15.38,11.67Z M14.20,12.00 A2.2,2.2 0 1 0 9.80,12.00 A2.2,2.2 0 1 0 14.20,12.00Z" fill="#3b8fd6" fill-rule="evenodd"/></svg><span class="t " style="left:527.60px;top:702.59px;font-size:13.5px;color:#222;letter-spacing:-0.807px;">customer_name</span><div class="bx" style="left:497px;top:733.3px;width:9px;height:0;border-top:1px dotted #777"></div><svg class="ic" style="left:507px;top:724.8px;width:17px;height:17px;" viewBox="0 0 17 17"><rect x="0.5" y="0.5" width="5" height="15" fill="#fff" stroke="#bdbdbd" stroke-width="1"/><rect x="1" y="1" width="4" height="3" fill="#5aaae6"/><rect x="2" y="5" width="2" height="9.5" fill="#d4e8f8"/><circle cx="12" cy="12" r="5" fill="#fff"/><path d="M15.38,12.33 L16.41,12.88 L15.74,14.50 L14.63,14.16 L14.16,14.63 L14.50,15.74 L12.88,16.41 L12.33,15.38 L11.67,15.38 L11.12,16.41 L9.50,15.74 L9.84,14.63 L9.37,14.16 L8.26,14.50 L7.59,12.88 L8.62,12.33 L8.62,11.67 L7.59,11.12 L8.26,9.50 L9.37,9.84 L9.84,9.37 L9.50,8.26 L11.12,7.59 L11.67,8.62 L12.33,8.62 L12.88,7.59 L14.50,8.26 L14.16,9.37 L14.63,9.84 L15.74,9.50 L16.41,11.12 L15.38,11.67Z M14.20,12.00 A2.2,2.2 0 1 0 9.80,12.00 A2.2,2.2 0 1 0 14.20,12.00Z" fill="#3b8fd6" fill-rule="evenodd"/></svg><span class="t " style="left:527.60px;top:726.59px;font-size:13.5px;color:#222;letter-spacing:-0.590px;">invoice_amount</span><svg class="ic" style="left:507px;top:746px;width:17px;height:17px;" viewBox="0 0 17 17"><rect x="0.5" y="0.5" width="5" height="15" fill="#fff" stroke="#bdbdbd" stroke-width="1"/><rect x="1" y="1" width="4" height="3" fill="#5aaae6"/><rect x="2" y="5" width="2" height="9.5" fill="#d4e8f8"/><circle cx="12" cy="12" r="5" fill="#fff"/><path d="M15.38,12.33 L16.41,12.88 L15.74,14.50 L14.63,14.16 L14.16,14.63 L14.50,15.74 L12.88,16.41 L12.33,15.38 L11.67,15.38 L11.12,16.41 L9.50,15.74 L9.84,14.63 L9.37,14.16 L8.26,14.50 L7.59,12.88 L8.62,12.33 L8.62,11.67 L7.59,11.12 L8.26,9.50 L9.37,9.84 L9.84,9.37 L9.50,8.26 L11.12,7.59 L11.67,8.62 L12.33,8.62 L12.88,7.59 L14.50,8.26 L14.16,9.37 L14.63,9.84 L15.74,9.50 L16.41,11.12 L15.38,11.67Z M14.20,12.00 A2.2,2.2 0 1 0 9.80,12.00 A2.2,2.2 0 1 0 14.20,12.00Z" fill="#3b8fd6" fill-rule="evenodd"/></svg><div class="bx" style="left:751px;top:601px;width:13px;height:149px;background:#f7f7f7"></div><svg class="ic" style="left:752px;top:605px;width:11px;height:8px;" viewBox="0 0 11 8"><path d="M1 7 L5.5 1 L10 7Z" fill="#a0a0a0"/></svg><div class="bx" style="left:753.5px;top:619px;width:8.5px;height:44px;background:#8c8c8c;border-radius:4px"></div><svg class="ic" style="left:752px;top:739px;width:11px;height:8px;" viewBox="0 0 11 8"><path d="M1 1 L5.5 7 L10 1Z" fill="#a0a0a0"/></svg><div class="bx" style="left:769px;top:570px;width:456px;height:30px;background:#fafafa"></div><div class="bx" style="left:769px;top:600px;width:456px;height:1px;background:#e6e6e6"></div><div class="bx" style="left:769px;top:601px;width:456px;height:150px;background:#fff"></div><span class="t " style="left:778.90px;top:578.17px;font-size:14px;color:#2f87cf;font-weight:bold;letter-spacing:-0.590px;">Processes that use</span><span class="t " style="left:899.30px;top:578.17px;font-size:14px;color:#2f87cf;font-weight:bold;font-style:italic;letter-spacing:-0.745px;">Join/1</span><svg class="ic" style="left:1075px;top:578px;width:14px;height:14px;" viewBox="0 0 14 14"><path d="M7 0.5v8" stroke="#2f87cf" stroke-width="2.6"/><path d="M2.6 5.6 L7 10.2 L11.4 5.6Z" fill="#2f87cf"/><path d="M1 9v4h12V9" stroke="#2f87cf" stroke-width="2" fill="none"/></svg><div class="bx" style="left:1098px;top:574px;width:22px;height:22px;background:#e4e4e4;border-radius:2px"></div><svg class="ic" style="left:1101px;top:577px;width:16px;height:16px;" viewBox="0 0 16 16"><rect x="1.3" y="1" width="4.2" height="4.2" rx="1" fill="#2f87cf"/><rect x="10" y="5.8" width="4.8" height="4.2" rx="1" fill="#2f87cf"/><rect x="10" y="11.3" width="4.8" height="4.2" rx="1" fill="#2f87cf"/><path d="M3.4 5 V13.4 H10 M3.4 7.9 H10" fill="none" stroke="#2f87cf" stroke-width="1.1"/></svg><div class="bx" style="left:1125px;top:573px;width:69px;height:23px;background:#e4e4e4;border-radius:3px"></div><span class="t " style="left:1138.20px;top:579.71px;font-size:11px;color:#777;letter-spacing:-0.712px;">SCRIPTS</span><svg class="ic" style="left:1201px;top:580px;width:14px;height:9px;" viewBox="0 0 14 9"><path d="M1 1.2 L7 7.4 L13 1.2" fill="none" stroke="#2f87cf" stroke-width="2"/></svg><div class="bx" style="left:769px;top:601px;width:456px;height:29px;background:#f0f0f0"></div><div class="bx" style="left:769px;top:630px;width:456px;height:1px;background:#dcdcdc"></div><span class="t " style="left:779.50px;top:609.86px;font-size:12px;color:#4a4a4a;font-weight:bold;letter-spacing:-0.858px;">Process</span><svg class="ic" style="left:779.2px;top:641.5px;width:24.0px;height:24.0px;" viewBox="0 0 32 32"><rect x="1.3" y="1.3" width="25.6" height="29.6" rx="3" fill="#fff" stroke="#c8c8c8" stroke-width="2"/><rect x="4.1" y="4.1" width="19.7" height="3.8" fill="#4aa8e8"/><path d="M5 27 V11.1 H22.9 V16 M5 15 H13 M5 21 H13 M13 11.1 V27 M5 27 H13" stroke="#c8c8c8" stroke-width="1.8" fill="none"/><circle cx="23.1" cy="22.8" r="10.3" fill="#fafafa"/><path d="M29.67,23.45 L31.77,24.81 L30.65,27.51 L28.20,26.99 L27.29,27.90 L27.81,30.35 L25.11,31.47 L23.75,29.37 L22.45,29.37 L21.09,31.47 L18.39,30.35 L18.91,27.90 L18.00,26.99 L15.55,27.51 L14.43,24.81 L16.53,23.45 L16.53,22.15 L14.43,20.79 L15.55,18.09 L18.00,18.61 L18.91,17.70 L18.39,15.25 L21.09,14.13 L22.45,16.23 L23.75,16.23 L25.11,14.13 L27.81,15.25 L27.29,17.70 L28.20,18.61 L30.65,18.09 L31.77,20.79 L29.67,22.15Z M27.60,22.80 A4.5,4.5 0 1 0 18.60,22.80 A4.5,4.5 0 1 0 27.60,22.80Z" fill="#3189d0" fill-rule="evenodd"/></svg><span class="t " style="left:810.50px;top:637.02px;font-size:13px;color:#333;letter-spacing:-0.390px;">Customer PO Invoice Item</span><svg class="ic" style="left:810.5px;top:655px;width:10.5px;height:10.5px;" viewBox="0 0 12 12"><g fill="none" stroke="#f4695b" stroke-width="1.15" stroke-linejoin="round" opacity="0.95"><path d="M6 0.8 L11 3.6 V8.4 L6 11.2 L1 8.4 V3.6 Z"/><path d="M1 5.6 L6 8.4 L11 5.6"/><path d="M3 5.4 L6 3.8 L9 5.4"/><path d="M2.6 8.4 L6 6.4 L9.4 8.4"/></g></svg><div class="bx" style="left:823px;top:650px;width:391px;height:20px;overflow:hidden"><span class="t " style="left:0.70px;top:4.02px;font-size:13px;color:#5a8ec4;letter-spacing:-0.905px;">Databricks PySpark Notebook</span><svg class="ic" style="left:153.7px;top:8px;width:4px;height:7px;" viewBox="0 0 4 7"><path d="M0.6 0.8 L3.3 3.5 L0.6 6.2" fill="none" stroke="#5a8ec4" stroke-width="1.1"/></svg><span class="t " style="left:161.70px;top:4.02px;font-size:13px;color:#5a8ec4;letter-spacing:-1.270px;">Shared</span><svg class="ic" style="left:200.0px;top:8px;width:4px;height:7px;" viewBox="0 0 4 7"><path d="M0.6 0.8 L3.3 3.5 L0.6 6.2" fill="none" stroke="#5a8ec4" stroke-width="1.1"/></svg><span class="t " style="left:208.00px;top:4.02px;font-size:13px;color:#5a8ec4;letter-spacing:-1.522px;">Demo</span><svg class="ic" style="left:240.6px;top:8px;width:4px;height:7px;" viewBox="0 0 4 7"><path d="M0.6 0.8 L3.3 3.5 L0.6 6.2" fill="none" stroke="#5a8ec4" stroke-width="1.1"/></svg><span class="t " style="left:248.60px;top:4.02px;font-size:13px;color:#5a8ec4;letter-spacing:-0.750px;">Staging to Dimensional DW Databricks</span></div><div class="bx" style="left:769px;top:674px;width:456px;height:1px;background:#e6e6e6"></div><div class="bx" style="left:0;top:0;width:1px;height:742px;background:#1b3558"></div></div></body></html>
